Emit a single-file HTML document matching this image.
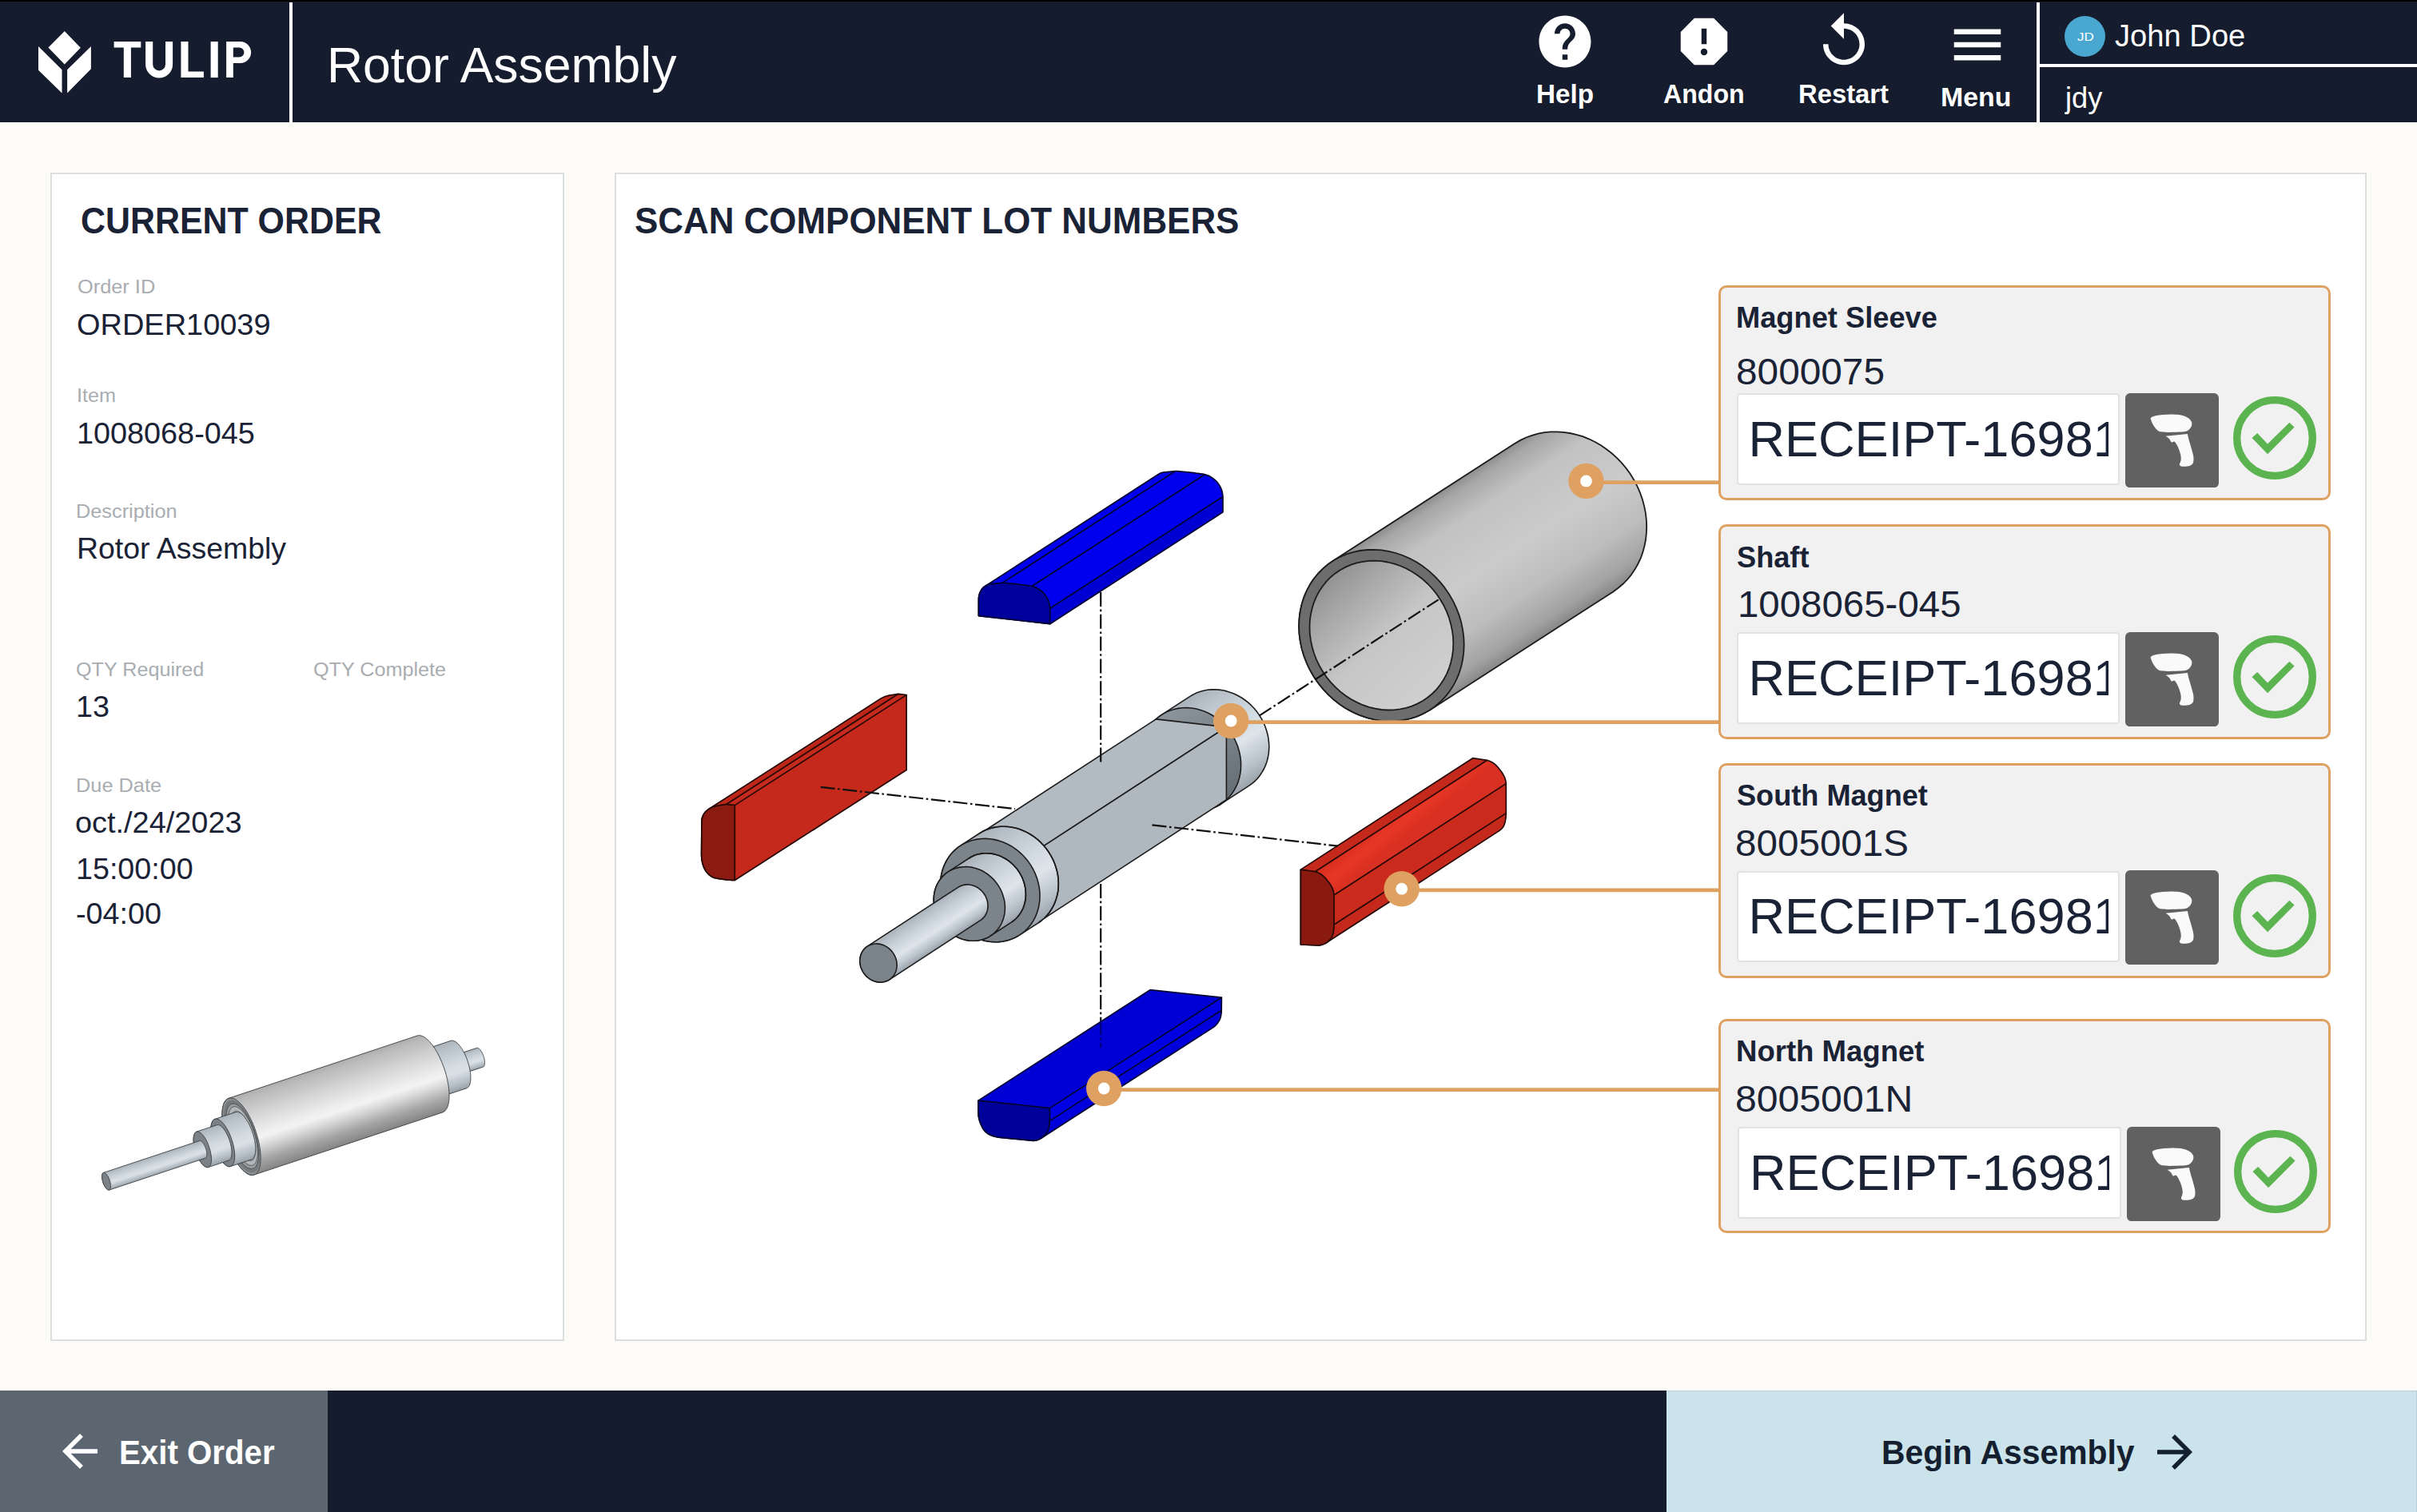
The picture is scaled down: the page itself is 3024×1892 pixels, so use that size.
<!DOCTYPE html>
<html lang="en"><head><meta charset="utf-8"><title>Rotor Assembly</title>
<style>
html,body{margin:0;padding:0}
body{width:3024px;height:1892px;position:relative;overflow:hidden;background:#fcfbf7;font-family:"Liberation Sans",sans-serif}
.abs,.t,.ic{position:absolute}
.t{white-space:nowrap;line-height:1;transform-origin:0 0;display:block}
.hdr{left:0;top:0;width:3024px;height:153px;background:#151c2d}
.panel{background:#fff;border:2px solid #dcdfe0;box-sizing:border-box}
.card{box-sizing:border-box;background:#f1f1f1;border:3px solid #dfa161;border-radius:10px}
.inp{box-sizing:border-box;background:#fff;border:2.6px solid #e2e2e2;border-radius:4px;overflow:hidden}
.scan{background:#616161;border-radius:6px}
svg{display:block}
</style></head><body>

<header>
<div class="abs hdr"></div>
<div class="abs" style="left:0;top:0;width:3024px;height:2px;background:#000"></div>
<div class="abs" style="left:362px;top:3px;width:4px;height:150px;background:#fff"></div>
<div class="abs" style="left:2548px;top:3px;width:4px;height:150px;background:#fff"></div>
<div class="abs" style="left:2552px;top:80px;width:472px;height:4px;background:#fff"></div>
<svg class="abs" style="left:0;top:0" width="362" height="153" viewBox="0 0 362 153">
<g fill="#fff">
<path d="M80.8 38.9 100.8 59.8 80.8 80.6 60.4 59.5Z"/>
<path d="M48 57.9 77.5 87.2 77.5 116.6 48 87.7Z"/>
<path d="M113.9 57.9 84.1 87.2 84.1 116.6 113.9 86.3Z"/>
<path d="M142.6 52H176.3V59.4H163.9V97.1H154.8V59.4H142.6Z"/>
<path d="M226.4 52H235.5V89.6H254.9V97.1H226.4Z"/>
<path d="M263.6 52H272.7V97.1H263.6Z"/>
<path fill-rule="evenodd" d="M283.1 52H300.6a13.5 13.45 0 0 1 0 26.9H291.8V97.1H283.1ZM291.8 59.4H299.4a6 6 0 0 1 0 12H291.8Z"/>
</g>
<path d="M186.65 52V80.5a12.45 12.45 0 0 0 24.9 0V52" fill="none" stroke="#fff" stroke-width="9.1"/>
</svg>
<span class="t" style="left:408.92px;top:50.12px;font-size:62.7px;color:#fff;transform:scaleX(0.9966);">Rotor Assembly</span>
<svg class="ic" style="left:1919.00px;top:13.00px" width="78" height="78" viewBox="0 0 24 24"><path fill="#fff"  d="M12 2C6.48 2 2 6.48 2 12s4.48 10 10 10 10-4.48 10-10S17.52 2 12 2zm1 17h-2v-2h2v2zm2.07-7.75l-.9.92C13.45 12.9 13 13.5 13 15h-2v-.5c0-1.1.45-2.1 1.17-2.83l1.24-1.26c.37-.36.59-.86.59-1.41 0-1.1-.9-2-2-2s-2 .9-2 2H8c0-2.21 1.79-4 4-4s4 1.79 4 4c0 .88-.36 1.68-.93 2.25z"/></svg>
<svg class="ic" style="left:2093.40px;top:13.00px" width="78" height="78" viewBox="0 0 24 24"><path fill="#fff"  d="M15.73 3H8.27L3 8.27v7.46L8.27 21h7.46L21 15.73V8.27L15.73 3zM12 17.3c-.72 0-1.3-.58-1.3-1.3 0-.72.58-1.3 1.3-1.3.72 0 1.3.58 1.3 1.3 0 .72-.58 1.3-1.3 1.3zm1-4.3h-2V7h2v6z"/></svg>
<svg class="ic" style="left:2268.00px;top:13.00px" width="78" height="78" viewBox="0 0 24 24"><path fill="#fff"  d="M12 5V1L7 6l5 5V7c3.31 0 6 2.69 6 6s-2.69 6-6 6-6-2.69-6-6H4c0 4.42 3.58 8 8 8s8-3.58 8-8-3.58-8-8-8z"/></svg>
<svg class="ic" style="left:2434.70px;top:16.50px" width="78" height="78" viewBox="0 0 24 24"><path fill="#fff"  d="M3 18h18v-2H3v2zm0-5h18v-2H3v2zm0-7v2h18V6H3z"/></svg>
<span class="t" style="left:1921.76px;top:102.12px;font-size:32.7px;color:#fff;font-weight:700;transform:scaleX(1.0187);">Help</span>
<span class="t" style="left:2081.46px;top:102.12px;font-size:32.7px;color:#fff;font-weight:700;transform:scaleX(0.9823);">Andon</span>
<span class="t" style="left:2250.19px;top:102.12px;font-size:32.7px;color:#fff;font-weight:700;transform:scaleX(1.0028);">Restart</span>
<span class="t" style="left:2428.33px;top:105.62px;font-size:32.7px;color:#fff;font-weight:700;transform:scaleX(1.0369);">Menu</span>
<div class="abs" style="left:2583.1px;top:19.8px;width:51px;height:51px;border-radius:50%;background:#4aa8d0"></div>
<span class="t" style="left:2598.60px;top:38.08px;font-size:15.5px;color:#fff;transform:scaleX(1.0959);">JD</span>
<span class="t" style="left:2645.60px;top:26.23px;font-size:38px;color:#fff;transform:scaleX(1.0041);">John Doe</span>
<span class="t" style="left:2584.18px;top:104.38px;font-size:37px;color:#fff;transform:scaleX(0.9793);">jdy</span>
</header>
<aside>
<div class="abs panel" style="left:63px;top:216px;width:643.2px;height:1462px"></div>
<span class="t" style="left:100.75px;top:254.18px;font-size:45.5px;color:#1a2236;font-weight:700;transform:scaleX(0.9426);">CURRENT ORDER</span>
<span class="t" style="left:96.88px;top:347.11px;font-size:24.8px;color:#a9adb1;transform:scaleX(1.0225);">Order ID</span>
<span class="t" style="left:96.32px;top:387.73px;font-size:37.3px;color:#1a2236;transform:scaleX(1.0174);">ORDER10039</span>
<span class="t" style="left:95.61px;top:483.11px;font-size:24.8px;color:#a9adb1;transform:scaleX(1.0186);">Item</span>
<span class="t" style="left:95.71px;top:524.43px;font-size:37.3px;color:#1a2236;transform:scaleX(1.0134);">1008068-045</span>
<span class="t" style="left:95.16px;top:627.81px;font-size:24.8px;color:#a9adb1;transform:scaleX(1.0200);">Description</span>
<span class="t" style="left:95.51px;top:668.26px;font-size:37.5px;color:#1a2236;transform:scaleX(0.9979);">Rotor Assembly</span>
<span class="t" style="left:94.89px;top:825.81px;font-size:24.8px;color:#a9adb1;transform:scaleX(1.0144);">QTY Required</span>
<span class="t" style="left:392.48px;top:825.81px;font-size:24.8px;color:#a9adb1;transform:scaleX(1.0158);">QTY Complete</span>
<span class="t" style="left:95.12px;top:866.43px;font-size:37.3px;color:#1a2236;transform:scaleX(1.0123);">13</span>
<span class="t" style="left:94.56px;top:971.01px;font-size:24.8px;color:#a9adb1;transform:scaleX(1.0215);">Due Date</span>
<span class="t" style="left:94.38px;top:1011.43px;font-size:37.3px;color:#1a2236;transform:scaleX(1.0158);">oct./24/2023</span>
<span class="t" style="left:95.12px;top:1068.63px;font-size:37.3px;color:#1a2236;transform:scaleX(1.0100);">15:00:00</span>
<span class="t" style="left:94.68px;top:1124.63px;font-size:37.3px;color:#1a2236;transform:scaleX(1.0125);">-04:00</span>
<svg class="abs" style="left:65px;top:1240px" width="640" height="436" viewBox="65 1240 640 436"><defs><linearGradient id="t1" gradientUnits="userSpaceOnUse" x1="570.0" y1="1320.1" x2="577.9" y2="1343.9"><stop offset="0" stop-color="#aab3ba"/><stop offset="0.15" stop-color="#bac3ca"/><stop offset="0.5" stop-color="#d4dce2"/><stop offset="0.65" stop-color="#d9e0e6"/><stop offset="0.88" stop-color="#b2bbc2"/><stop offset="1" stop-color="#98a1a8"/></linearGradient><linearGradient id="t2" gradientUnits="userSpaceOnUse" x1="528.0" y1="1314.3" x2="547.7" y2="1373.7"><stop offset="0" stop-color="#aab3ba"/><stop offset="0.15" stop-color="#bac3ca"/><stop offset="0.5" stop-color="#d4dce2"/><stop offset="0.65" stop-color="#d9e0e6"/><stop offset="0.88" stop-color="#b2bbc2"/><stop offset="1" stop-color="#98a1a8"/></linearGradient><linearGradient id="t3" gradientUnits="userSpaceOnUse" x1="286.1" y1="1374.3" x2="317.9" y2="1470.1"><stop offset="0" stop-color="#adadad"/><stop offset="0.06" stop-color="#b9b9b9"/><stop offset="0.3" stop-color="#d6d6d6"/><stop offset="0.5" stop-color="#ececec"/><stop offset="0.58" stop-color="#f3f3f3"/><stop offset="0.68" stop-color="#dadada"/><stop offset="0.85" stop-color="#a6a6a6"/><stop offset="1" stop-color="#858585"/></linearGradient><linearGradient id="t4" gradientUnits="userSpaceOnUse" x1="268.9" y1="1400.3" x2="288.6" y2="1459.5"><stop offset="0" stop-color="#aab3ba"/><stop offset="0.15" stop-color="#bac3ca"/><stop offset="0.5" stop-color="#d4dce2"/><stop offset="0.65" stop-color="#d9e0e6"/><stop offset="0.88" stop-color="#b2bbc2"/><stop offset="1" stop-color="#98a1a8"/></linearGradient><linearGradient id="t5" gradientUnits="userSpaceOnUse" x1="245.9" y1="1416.1" x2="260.7" y2="1460.6"><stop offset="0" stop-color="#aab3ba"/><stop offset="0.15" stop-color="#bac3ca"/><stop offset="0.5" stop-color="#d4dce2"/><stop offset="0.65" stop-color="#d9e0e6"/><stop offset="0.88" stop-color="#b2bbc2"/><stop offset="1" stop-color="#98a1a8"/></linearGradient><linearGradient id="t6" gradientUnits="userSpaceOnUse" x1="129.5" y1="1467.4" x2="136.6" y2="1489.1"><stop offset="0" stop-color="#aab3ba"/><stop offset="0.15" stop-color="#bac3ca"/><stop offset="0.5" stop-color="#d4dce2"/><stop offset="0.65" stop-color="#d9e0e6"/><stop offset="0.88" stop-color="#b2bbc2"/><stop offset="1" stop-color="#98a1a8"/></linearGradient></defs><path d="M570.0 1320.1 569.7 1320.3 569.4 1320.4 569.2 1320.7 569.0 1320.9 568.8 1321.2 568.6 1321.6 568.4 1322.0 568.3 1322.5 568.2 1323.0 568.1 1323.5 568.0 1324.1 568.0 1324.7 567.9 1325.3 568.0 1326.0 568.0 1326.7 568.1 1327.4 568.1 1328.1 568.3 1328.8 568.4 1329.6 568.6 1330.4 568.7 1331.2 568.9 1331.9 569.2 1332.7 569.4 1333.5 569.7 1334.3 570.0 1335.0 570.3 1335.8 570.6 1336.5 570.9 1337.2 571.3 1337.9 571.6 1338.6 572.0 1339.2 572.4 1339.8 572.8 1340.4 573.1 1341.0 573.5 1341.5 573.9 1341.9 574.3 1342.3 574.7 1342.7 575.1 1343.0 575.5 1343.3 575.8 1343.5 576.2 1343.7 576.6 1343.9 576.9 1343.9 577.2 1344.0 577.6 1343.9 577.9 1343.9 604.4 1335.1 604.7 1334.9 605.0 1334.8 605.2 1334.5 605.5 1334.3 605.7 1333.9 605.9 1333.6 606.0 1333.2 606.2 1332.7 606.3 1332.2 606.4 1331.7 606.4 1331.1 606.5 1330.5 606.5 1329.9 606.5 1329.2 606.4 1328.5 606.4 1327.8 606.3 1327.1 606.2 1326.3 606.0 1325.6 605.9 1324.8 605.7 1324.0 605.5 1323.3 605.3 1322.5 605.0 1321.7 604.7 1320.9 604.5 1320.2 604.2 1319.4 603.8 1318.7 603.5 1318.0 603.2 1317.3 602.8 1316.6 602.4 1316.0 602.1 1315.4 601.7 1314.8 601.3 1314.2 600.9 1313.7 600.5 1313.3 600.1 1312.9 599.7 1312.5 599.4 1312.2 599.0 1311.9 598.6 1311.7 598.2 1311.5 597.9 1311.3 597.5 1311.3 597.2 1311.2 596.9 1311.3 596.6 1311.3Z" fill="url(#t1)" stroke="#3a3d40" stroke-width="0.9" stroke-linejoin="round"/>
<path d="M528.0 1314.3 527.3 1314.6 526.6 1315.0 526.0 1315.6 525.4 1316.2 524.9 1317.0 524.4 1318.0 524.0 1319.0 523.7 1320.1 523.4 1321.3 523.2 1322.7 523.0 1324.1 522.9 1325.6 522.9 1327.2 522.9 1328.9 523.0 1330.6 523.2 1332.4 523.4 1334.2 523.7 1336.1 524.0 1338.0 524.4 1339.9 524.9 1341.8 525.4 1343.8 526.0 1345.8 526.6 1347.7 527.2 1349.6 528.0 1351.6 528.7 1353.4 529.5 1355.3 530.3 1357.1 531.2 1358.8 532.1 1360.5 533.0 1362.1 534.0 1363.6 534.9 1365.0 535.9 1366.4 536.8 1367.6 537.8 1368.8 538.8 1369.8 539.8 1370.7 540.8 1371.6 541.7 1372.3 542.6 1372.8 543.6 1373.3 544.5 1373.6 545.3 1373.8 546.2 1373.9 547.0 1373.9 547.7 1373.7 583.8 1361.7 584.5 1361.4 585.2 1361.0 585.8 1360.4 586.4 1359.7 586.9 1358.9 587.4 1358.0 587.8 1357.0 588.1 1355.9 588.4 1354.6 588.6 1353.3 588.8 1351.9 588.9 1350.4 588.9 1348.8 588.9 1347.1 588.8 1345.4 588.6 1343.6 588.4 1341.8 588.1 1339.9 587.8 1338.0 587.4 1336.1 586.9 1334.1 586.4 1332.2 585.8 1330.2 585.2 1328.3 584.6 1326.3 583.8 1324.4 583.1 1322.5 582.3 1320.7 581.5 1318.9 580.6 1317.2 579.7 1315.5 578.8 1313.9 577.8 1312.4 576.9 1310.9 575.9 1309.6 574.9 1308.3 574.0 1307.2 573.0 1306.2 572.0 1305.2 571.0 1304.4 570.1 1303.7 569.1 1303.1 568.2 1302.7 567.3 1302.3 566.5 1302.1 565.6 1302.1 564.8 1302.1 564.1 1302.3Z" fill="url(#t2)" stroke="#3a3d40" stroke-width="0.9" stroke-linejoin="round"/>
<path d="M286.1 1374.3 284.9 1374.8 283.9 1375.5 282.9 1376.4 281.9 1377.5 281.1 1378.8 280.3 1380.2 279.7 1381.9 279.1 1383.7 278.7 1385.7 278.3 1387.9 278.0 1390.1 277.9 1392.6 277.8 1395.1 277.9 1397.8 278.0 1400.6 278.3 1403.5 278.6 1406.4 279.1 1409.4 279.6 1412.5 280.3 1415.6 281.0 1418.8 281.9 1421.9 282.8 1425.1 283.8 1428.2 284.9 1431.4 286.0 1434.4 287.2 1437.5 288.5 1440.4 289.9 1443.3 291.3 1446.1 292.7 1448.8 294.2 1451.4 295.7 1453.9 297.2 1456.2 298.8 1458.3 300.4 1460.4 301.9 1462.2 303.5 1463.9 305.1 1465.4 306.7 1466.7 308.2 1467.9 309.7 1468.8 311.2 1469.5 312.6 1470.1 314.0 1470.4 315.4 1470.5 316.7 1470.4 317.9 1470.1 553.8 1391.9 554.9 1391.4 556.0 1390.7 557.0 1389.8 557.9 1388.7 558.8 1387.4 559.5 1385.9 560.2 1384.3 560.7 1382.5 561.2 1380.5 561.6 1378.3 561.8 1376.0 562.0 1373.6 562.0 1371.0 562.0 1368.4 561.8 1365.6 561.6 1362.7 561.2 1359.7 560.8 1356.7 560.2 1353.7 559.6 1350.5 558.8 1347.4 558.0 1344.2 557.1 1341.1 556.1 1337.9 555.0 1334.8 553.8 1331.7 552.6 1328.7 551.3 1325.7 550.0 1322.8 548.6 1320.0 547.2 1317.3 545.7 1314.8 544.2 1312.3 542.6 1310.0 541.1 1307.8 539.5 1305.8 537.9 1303.9 536.3 1302.3 534.8 1300.8 533.2 1299.4 531.7 1298.3 530.1 1297.4 528.7 1296.6 527.2 1296.1 525.8 1295.8 524.5 1295.7 523.2 1295.7 522.0 1296.0Z" fill="url(#t3)" stroke="#3a3d40" stroke-width="0.9" stroke-linejoin="round"/>
<path d="M286.1 1374.3 288.6 1373.9 291.4 1374.3 294.3 1375.6 297.3 1377.7 300.5 1380.5 303.6 1384.0 306.8 1388.2 309.8 1393.0 312.7 1398.3 315.5 1404.0 318.0 1410.0 320.2 1416.2 322.1 1422.5 323.7 1428.8 324.9 1435.0 325.7 1440.9 326.1 1446.6 326.1 1451.8 325.7 1456.5 324.9 1460.7 323.7 1464.2 322.1 1466.9 320.1 1468.9 317.9 1470.1 315.4 1470.5 312.6 1470.1 309.7 1468.8 306.7 1466.7 303.5 1463.9 300.4 1460.4 297.2 1456.2 294.2 1451.4 291.3 1446.1 288.5 1440.4 286.0 1434.4 283.8 1428.2 281.9 1421.9 280.3 1415.6 279.1 1409.4 278.3 1403.5 277.9 1397.8 277.9 1392.6 278.3 1387.9 279.1 1383.7 280.3 1380.2 281.9 1377.5 283.9 1375.5 286.1 1374.3Z" fill="#8b8f92" stroke="#3a3d40" stroke-width="0.9" stroke-linejoin="round"/>
<path d="M287.6 1376.9 290.0 1376.6 292.6 1377.0 295.3 1378.2 298.2 1380.1 301.1 1382.8 304.1 1386.1 307.1 1390.1 309.9 1394.5 312.7 1399.5 315.2 1404.9 317.6 1410.5 319.7 1416.3 321.5 1422.3 323.0 1428.2 324.1 1434.0 324.9 1439.6 325.3 1444.9 325.3 1449.9 324.9 1454.3 324.1 1458.2 322.9 1461.5 321.4 1464.1 319.6 1466.0 317.5 1467.1 315.2 1467.5 312.6 1467.0 309.8 1465.8 307.0 1463.9 304.0 1461.2 301.0 1457.9 298.1 1454.0 295.2 1449.5 292.5 1444.5 289.9 1439.2 287.5 1433.5 285.4 1427.7 283.6 1421.8 282.2 1415.8 281.0 1410.0 280.3 1404.4 279.9 1399.1 279.9 1394.1 280.3 1389.7 281.1 1385.8 282.2 1382.5 283.7 1379.9 285.5 1378.1 287.6 1376.9Z" fill="#74797d"/>
<path d="M289.8 1381.5 291.9 1381.2 294.2 1381.5 296.6 1382.6 299.2 1384.3 301.9 1386.7 304.5 1389.7 307.2 1393.2 309.7 1397.2 312.2 1401.7 314.5 1406.5 316.6 1411.5 318.5 1416.7 320.1 1422.0 321.4 1427.4 322.4 1432.6 323.1 1437.6 323.4 1442.3 323.4 1446.8 323.1 1450.7 322.4 1454.2 321.4 1457.1 320.0 1459.5 318.4 1461.2 316.5 1462.2 314.4 1462.5 312.1 1462.1 309.6 1461.0 307.1 1459.3 304.4 1456.9 301.8 1453.9 299.1 1450.4 296.6 1446.4 294.1 1442.0 291.8 1437.2 289.7 1432.1 287.8 1426.9 286.2 1421.6 284.9 1416.3 283.9 1411.1 283.2 1406.1 282.8 1401.3 282.8 1396.9 283.2 1392.9 283.9 1389.4 284.9 1386.5 286.2 1384.2 287.9 1382.5 289.8 1381.5Z" fill="#9a9ea1" stroke="#3a3d40" stroke-width="0.7" stroke-linejoin="round"/>
<path d="M291.8 1385.0 293.7 1384.7 295.8 1385.1 298.0 1386.0 300.3 1387.6 302.7 1389.8 305.1 1392.5 307.5 1395.7 309.9 1399.3 312.1 1403.3 314.2 1407.7 316.1 1412.2 317.8 1417.0 319.2 1421.8 320.4 1426.6 321.4 1431.3 322.0 1435.9 322.3 1440.2 322.3 1444.2 322.0 1447.8 321.3 1450.9 320.4 1453.6 319.2 1455.7 317.7 1457.2 316.0 1458.1 314.1 1458.4 312.0 1458.1 309.8 1457.1 307.5 1455.5 305.1 1453.4 302.6 1450.7 300.3 1447.5 297.9 1443.8 295.7 1439.8 293.6 1435.5 291.7 1430.9 290.0 1426.2 288.5 1421.4 287.3 1416.6 286.4 1411.8 285.8 1407.3 285.5 1403.0 285.5 1399.0 285.8 1395.4 286.5 1392.2 287.4 1389.6 288.6 1387.5 290.1 1385.9 291.8 1385.0Z" fill="#b4b8bb" stroke="#3a3d40" stroke-width="0.7" stroke-linejoin="round"/>
<path d="M293.8 1389.6 295.5 1389.4 297.3 1389.7 299.3 1390.5 301.3 1391.9 303.4 1393.7 305.5 1396.1 307.5 1398.9 309.6 1402.0 311.5 1405.5 313.3 1409.3 315.0 1413.3 316.5 1417.4 317.7 1421.6 318.8 1425.8 319.6 1429.9 320.1 1433.8 320.4 1437.6 320.4 1441.1 320.1 1444.2 319.5 1446.9 318.7 1449.3 317.7 1451.1 316.4 1452.4 314.9 1453.2 313.3 1453.5 311.4 1453.2 309.5 1452.3 307.5 1451.0 305.4 1449.1 303.3 1446.7 301.2 1443.9 299.2 1440.8 297.2 1437.3 295.4 1433.5 293.8 1429.5 292.3 1425.4 291.0 1421.2 290.0 1417.1 289.2 1412.9 288.6 1409.0 288.4 1405.2 288.4 1401.8 288.7 1398.6 289.2 1395.9 290.0 1393.6 291.1 1391.7 292.3 1390.4 293.8 1389.6Z" fill="#8a8f93"/>
<path d="M268.9 1400.3 268.2 1400.6 267.5 1401.0 266.9 1401.6 266.3 1402.3 265.8 1403.1 265.4 1404.0 265.0 1405.0 264.6 1406.1 264.3 1407.4 264.1 1408.7 263.9 1410.1 263.8 1411.6 263.8 1413.2 263.8 1414.8 263.9 1416.6 264.1 1418.3 264.3 1420.2 264.6 1422.0 264.9 1423.9 265.3 1425.9 265.8 1427.8 266.3 1429.7 266.9 1431.7 267.5 1433.6 268.2 1435.6 268.9 1437.5 269.6 1439.4 270.4 1441.2 271.2 1443.0 272.1 1444.7 273.0 1446.4 273.9 1448.0 274.8 1449.5 275.8 1450.9 276.8 1452.2 277.7 1453.5 278.7 1454.6 279.7 1455.7 280.7 1456.6 281.6 1457.4 282.6 1458.1 283.5 1458.7 284.4 1459.2 285.3 1459.5 286.2 1459.7 287.0 1459.8 287.8 1459.7 288.6 1459.5 314.7 1450.9 315.4 1450.6 316.1 1450.1 316.7 1449.6 317.2 1448.9 317.8 1448.1 318.2 1447.2 318.6 1446.2 319.0 1445.0 319.3 1443.8 319.5 1442.5 319.7 1441.1 319.8 1439.6 319.8 1438.0 319.8 1436.3 319.7 1434.6 319.5 1432.8 319.3 1431.0 319.0 1429.1 318.7 1427.2 318.3 1425.3 317.8 1423.4 317.3 1421.4 316.7 1419.5 316.1 1417.5 315.4 1415.6 314.7 1413.7 314.0 1411.8 313.2 1410.0 312.3 1408.2 311.5 1406.5 310.6 1404.8 309.7 1403.2 308.7 1401.7 307.8 1400.3 306.8 1398.9 305.9 1397.7 304.9 1396.5 303.9 1395.5 302.9 1394.6 302.0 1393.7 301.0 1393.0 300.1 1392.5 299.2 1392.0 298.3 1391.7 297.4 1391.5 296.6 1391.4 295.8 1391.5 295.0 1391.6Z" fill="url(#t4)" stroke="#3a3d40" stroke-width="0.9" stroke-linejoin="round"/>
<path d="M268.9 1400.3 270.5 1400.1 272.2 1400.3 274.0 1401.1 275.9 1402.4 277.8 1404.1 279.8 1406.3 281.7 1408.9 283.6 1411.9 285.4 1415.1 287.1 1418.6 288.6 1422.3 290.0 1426.2 291.2 1430.1 292.2 1434.0 292.9 1437.8 293.4 1441.5 293.7 1445.0 293.6 1448.2 293.4 1451.1 292.9 1453.7 292.1 1455.8 291.1 1457.6 290.0 1458.8 288.6 1459.5 287.0 1459.8 285.3 1459.5 283.5 1458.7 281.6 1457.4 279.7 1455.7 277.7 1453.5 275.8 1450.9 273.9 1448.0 272.1 1444.7 270.4 1441.2 268.9 1437.5 267.5 1433.6 266.3 1429.7 265.3 1425.9 264.6 1422.0 264.1 1418.3 263.8 1414.8 263.8 1411.6 264.1 1408.7 264.6 1406.1 265.4 1404.0 266.3 1402.3 267.5 1401.0 268.9 1400.3Z" fill="#7a8288" stroke="#3a3d40" stroke-width="0.9" stroke-linejoin="round"/>
<path d="M245.9 1416.1 245.4 1416.4 244.9 1416.7 244.4 1417.1 244.0 1417.6 243.6 1418.2 243.3 1418.9 243.0 1419.7 242.7 1420.5 242.5 1421.4 242.3 1422.4 242.2 1423.5 242.1 1424.6 242.1 1425.8 242.1 1427.1 242.2 1428.3 242.3 1429.7 242.5 1431.0 242.7 1432.4 242.9 1433.9 243.2 1435.3 243.6 1436.8 244.0 1438.2 244.4 1439.7 244.9 1441.1 245.4 1442.6 245.9 1444.0 246.5 1445.4 247.1 1446.8 247.7 1448.1 248.3 1449.4 249.0 1450.7 249.7 1451.9 250.4 1453.0 251.1 1454.1 251.8 1455.1 252.5 1456.0 253.3 1456.9 254.0 1457.7 254.7 1458.4 255.5 1459.0 256.2 1459.5 256.9 1459.9 257.6 1460.3 258.2 1460.5 258.9 1460.7 259.5 1460.7 260.1 1460.7 260.7 1460.6 286.1 1452.1 286.6 1451.9 287.2 1451.6 287.6 1451.2 288.0 1450.6 288.4 1450.0 288.8 1449.4 289.1 1448.6 289.3 1447.7 289.6 1446.8 289.7 1445.8 289.8 1444.8 289.9 1443.6 289.9 1442.5 289.9 1441.2 289.9 1439.9 289.7 1438.6 289.6 1437.2 289.4 1435.8 289.1 1434.4 288.8 1433.0 288.5 1431.5 288.1 1430.0 287.6 1428.6 287.2 1427.1 286.7 1425.7 286.2 1424.2 285.6 1422.8 285.0 1421.5 284.4 1420.1 283.7 1418.8 283.1 1417.6 282.4 1416.4 281.7 1415.2 281.0 1414.2 280.2 1413.2 279.5 1412.2 278.8 1411.4 278.0 1410.6 277.3 1409.9 276.6 1409.3 275.9 1408.8 275.2 1408.3 274.5 1408.0 273.8 1407.7 273.2 1407.6 272.5 1407.5 271.9 1407.6 271.4 1407.7Z" fill="url(#t5)" stroke="#3a3d40" stroke-width="0.9" stroke-linejoin="round"/>
<path d="M245.9 1416.1 247.1 1416.0 248.4 1416.2 249.7 1416.8 251.1 1417.7 252.6 1419.0 254.1 1420.7 255.5 1422.6 256.9 1424.8 258.3 1427.3 259.6 1429.9 260.7 1432.7 261.7 1435.6 262.6 1438.5 263.4 1441.4 263.9 1444.3 264.3 1447.0 264.5 1449.7 264.5 1452.1 264.3 1454.3 263.9 1456.2 263.3 1457.8 262.6 1459.1 261.7 1460.0 260.7 1460.6 259.5 1460.7 258.2 1460.5 256.9 1459.9 255.5 1459.0 254.0 1457.7 252.5 1456.0 251.1 1454.1 249.7 1451.9 248.3 1449.4 247.1 1446.8 245.9 1444.0 244.9 1441.1 244.0 1438.2 243.2 1435.3 242.7 1432.4 242.3 1429.7 242.1 1427.1 242.1 1424.6 242.3 1422.4 242.7 1420.5 243.3 1418.9 244.0 1417.6 244.9 1416.7 245.9 1416.1Z" fill="#7a8288" stroke="#3a3d40" stroke-width="0.9" stroke-linejoin="round"/>
<path d="M129.5 1467.4 129.2 1467.5 129.0 1467.7 128.7 1467.9 128.5 1468.1 128.3 1468.4 128.2 1468.8 128.0 1469.1 127.9 1469.5 127.8 1470.0 127.7 1470.5 127.6 1471.0 127.6 1471.6 127.6 1472.1 127.6 1472.7 127.6 1473.4 127.7 1474.0 127.8 1474.7 127.9 1475.4 128.0 1476.1 128.2 1476.8 128.3 1477.5 128.5 1478.2 128.7 1478.9 128.9 1479.6 129.2 1480.3 129.4 1481.0 129.7 1481.7 130.0 1482.4 130.3 1483.0 130.6 1483.6 131.0 1484.2 131.3 1484.8 131.6 1485.4 132.0 1485.9 132.3 1486.4 132.7 1486.9 133.0 1487.3 133.4 1487.7 133.8 1488.0 134.1 1488.3 134.5 1488.5 134.8 1488.8 135.1 1488.9 135.5 1489.0 135.8 1489.1 136.1 1489.1 136.4 1489.1 136.6 1489.1 256.9 1449.2 257.2 1449.1 257.4 1448.9 257.6 1448.7 257.8 1448.4 258.0 1448.2 258.2 1447.8 258.3 1447.5 258.5 1447.0 258.6 1446.6 258.7 1446.1 258.7 1445.6 258.8 1445.0 258.8 1444.5 258.8 1443.9 258.7 1443.2 258.7 1442.6 258.6 1441.9 258.5 1441.2 258.4 1440.5 258.2 1439.8 258.0 1439.1 257.9 1438.4 257.6 1437.7 257.4 1437.0 257.2 1436.3 256.9 1435.6 256.6 1434.9 256.4 1434.2 256.0 1433.6 255.7 1432.9 255.4 1432.3 255.1 1431.8 254.7 1431.2 254.4 1430.7 254.0 1430.2 253.7 1429.7 253.3 1429.3 253.0 1428.9 252.6 1428.6 252.3 1428.3 251.9 1428.0 251.6 1427.8 251.2 1427.7 250.9 1427.5 250.6 1427.5 250.3 1427.4 250.0 1427.5 249.7 1427.5Z" fill="url(#t6)" stroke="#3a3d40" stroke-width="0.9" stroke-linejoin="round"/>
<path d="M129.5 1467.4 130.0 1467.3 130.6 1467.4 131.3 1467.7 132.0 1468.2 132.7 1468.8 133.4 1469.6 134.1 1470.6 134.8 1471.6 135.5 1472.8 136.1 1474.1 136.7 1475.5 137.2 1476.9 137.6 1478.3 138.0 1479.7 138.2 1481.1 138.4 1482.5 138.5 1483.7 138.5 1484.9 138.4 1486.0 138.2 1486.9 137.9 1487.7 137.6 1488.3 137.1 1488.8 136.6 1489.1 136.1 1489.1 135.5 1489.0 134.8 1488.8 134.1 1488.3 133.4 1487.7 132.7 1486.9 132.0 1485.9 131.3 1484.8 130.6 1483.6 130.0 1482.4 129.4 1481.0 128.9 1479.6 128.5 1478.2 128.2 1476.8 127.9 1475.4 127.7 1474.0 127.6 1472.7 127.6 1471.6 127.7 1470.5 127.9 1469.5 128.2 1468.8 128.5 1468.1 129.0 1467.7 129.5 1467.4Z" fill="#7a8288" stroke="#3a3d40" stroke-width="0.9" stroke-linejoin="round"/></svg>
</aside>
<main>
<div class="abs panel" style="left:769.2px;top:216px;width:2192.2px;height:1462px"></div>
<span class="t" style="left:793.69px;top:254.18px;font-size:45.5px;color:#1a2236;font-weight:700;transform:scaleX(0.9653);">SCAN COMPONENT LOT NUMBERS</span>
<svg class="abs" style="left:0;top:0" width="3024" height="1892" viewBox="0 0 3024 1892"><defs><linearGradient id="g1" gradientUnits="userSpaceOnUse" x1="1668.3" y1="702.7" x2="1788.5" y2="887.5"><stop offset="0" stop-color="#8f8f8f"/><stop offset="0.05" stop-color="#a6a6a6"/><stop offset="0.2" stop-color="#c2c2c2"/><stop offset="0.5" stop-color="#cbcbcb"/><stop offset="0.75" stop-color="#bdbdbd"/><stop offset="0.93" stop-color="#a2a2a2"/><stop offset="1" stop-color="#8a8a8a"/></linearGradient><linearGradient id="g2" gradientUnits="userSpaceOnUse" x1="1653.4" y1="720.1" x2="1788.4" y2="865.1"><stop offset="0" stop-color="#8e8e8e"/><stop offset="0.25" stop-color="#a9a9a9"/><stop offset="0.55" stop-color="#c6c6c6"/><stop offset="1" stop-color="#cfcfcf"/></linearGradient><linearGradient id="g3" gradientUnits="userSpaceOnUse" x1="1454.2" y1="894.6" x2="1526.6" y2="1005.9"><stop offset="0" stop-color="#a9b2ba"/><stop offset="0.12" stop-color="#b7c0c8"/><stop offset="0.45" stop-color="#d3dbe2"/><stop offset="0.62" stop-color="#dde4ea"/><stop offset="0.85" stop-color="#b9c2ca"/><stop offset="1" stop-color="#9aa3ab"/></linearGradient><linearGradient id="g4" gradientUnits="userSpaceOnUse" x1="1454.2" y1="894.6" x2="1526.6" y2="1005.9"><stop offset="0" stop-color="#8c949b"/><stop offset="0.5" stop-color="#7a8289"/><stop offset="1" stop-color="#666e75"/></linearGradient><linearGradient id="g5" gradientUnits="userSpaceOnUse" x1="1202.6" y1="1058.4" x2="1275.0" y2="1169.7"><stop offset="0" stop-color="#a9b2ba"/><stop offset="0.12" stop-color="#b7c0c8"/><stop offset="0.45" stop-color="#d3dbe2"/><stop offset="0.62" stop-color="#dde4ea"/><stop offset="0.85" stop-color="#b9c2ca"/><stop offset="1" stop-color="#9aa3ab"/></linearGradient><linearGradient id="g6" gradientUnits="userSpaceOnUse" x1="1186.9" y1="1091.0" x2="1238.8" y2="1170.8"><stop offset="0" stop-color="#a9b2ba"/><stop offset="0.12" stop-color="#b7c0c8"/><stop offset="0.45" stop-color="#d3dbe2"/><stop offset="0.62" stop-color="#dde4ea"/><stop offset="0.85" stop-color="#b9c2ca"/><stop offset="1" stop-color="#9aa3ab"/></linearGradient><linearGradient id="g7" gradientUnits="userSpaceOnUse" x1="1085.5" y1="1184.3" x2="1112.5" y2="1225.7"><stop offset="0" stop-color="#a9b2ba"/><stop offset="0.12" stop-color="#b7c0c8"/><stop offset="0.45" stop-color="#d3dbe2"/><stop offset="0.62" stop-color="#dde4ea"/><stop offset="0.85" stop-color="#b9c2ca"/><stop offset="1" stop-color="#9aa3ab"/></linearGradient><linearGradient id="g8" gradientUnits="userSpaceOnUse" x1="1645.4" y1="1090.7" x2="1669.1" y2="1120.0"><stop offset="0" stop-color="#d62d1f"/><stop offset="0.5" stop-color="#e83626"/><stop offset="1" stop-color="#d83022"/></linearGradient><linearGradient id="g9" gradientUnits="userSpaceOnUse" x1="1669.1" y1="1157.0" x2="1650.0" y2="1183.0"><stop offset="0" stop-color="#c4291b"/><stop offset="1" stop-color="#9c2014"/></linearGradient><linearGradient id="g10" gradientUnits="userSpaceOnUse" x1="1313.3" y1="1402.6" x2="1293.2" y2="1427.3"><stop offset="0" stop-color="#0000dc"/><stop offset="1" stop-color="#0000a8"/></linearGradient></defs><path d="M1667.0 702.3 1660.7 706.9 1654.8 711.9 1649.3 717.5 1644.3 723.6 1639.9 730.1 1636.0 737.0 1632.6 744.2 1629.9 751.8 1627.8 759.7 1626.2 767.7 1625.4 776.0 1625.1 784.3 1625.5 792.7 1626.5 801.1 1628.2 809.5 1630.4 817.8 1633.3 826.0 1636.8 834.0 1640.8 841.7 1645.3 849.2 1650.4 856.3 1656.0 863.0 1662.0 869.3 1668.4 875.2 1675.2 880.5 1682.3 885.4 1689.7 889.7 1697.3 893.4 1705.1 896.5 1713.1 898.9 1721.2 900.7 1729.3 901.9 1737.4 902.4 1745.4 902.3 1753.3 901.5 1761.1 900.0 1768.7 897.9 1776.1 895.2 1783.1 891.8 1789.8 887.9 2018.3 740.4 2024.6 735.8 2030.5 730.8 2036.0 725.2 2041.0 719.1 2045.4 712.6 2049.3 705.7 2052.7 698.5 2055.4 690.9 2057.5 683.0 2059.1 675.0 2059.9 666.7 2060.2 658.4 2059.8 650.0 2058.8 641.6 2057.1 633.2 2054.9 624.9 2052.0 616.7 2048.5 608.7 2044.5 601.0 2040.0 593.5 2034.9 586.4 2029.3 579.7 2023.3 573.4 2016.9 567.5 2010.1 562.2 2003.0 557.3 1995.6 553.0 1988.0 549.3 1980.2 546.2 1972.2 543.8 1964.1 542.0 1956.0 540.8 1947.9 540.3 1939.9 540.4 1932.0 541.2 1924.2 542.7 1916.6 544.8 1909.2 547.5 1902.2 550.9 1895.5 554.8Z" fill="url(#g1)" stroke="#1c1c1c" stroke-width="1.8" stroke-linejoin="round"/>
<path d="M1728.4 688.4 1737.4 689.8 1746.3 692.0 1755.1 695.0 1763.7 698.8 1772.1 703.3 1780.1 708.5 1787.7 714.4 1794.8 720.8 1801.4 727.9 1807.5 735.4 1813.0 743.5 1817.9 751.9 1822.0 760.6 1825.5 769.6 1828.2 778.8 1830.1 788.1 1831.3 797.4 1831.7 806.8 1831.3 816.0 1830.1 825.1 1828.2 834.0 1825.5 842.6 1822.0 850.8 1817.9 858.6 1813.0 865.9 1807.5 872.7 1801.4 878.8 1794.8 884.4 1787.7 889.2 1780.1 893.4 1772.1 896.8 1763.7 899.4 1755.1 901.2 1746.3 902.2 1737.4 902.4 1728.4 901.8 1719.4 900.4 1710.5 898.2 1701.7 895.2 1693.1 891.4 1684.7 886.9 1676.7 881.7 1669.1 875.8 1662.0 869.4 1655.4 862.3 1649.3 854.8 1643.8 846.7 1638.9 838.3 1634.8 829.6 1631.3 820.6 1628.6 811.4 1626.7 802.1 1625.5 792.8 1625.1 783.4 1625.5 774.2 1626.7 765.1 1628.6 756.2 1631.3 747.6 1634.8 739.4 1638.9 731.6 1643.8 724.3 1649.3 717.5 1655.4 711.4 1662.0 705.8 1669.1 701.0 1676.7 696.8 1684.7 693.4 1693.1 690.8 1701.7 689.0 1710.5 688.0 1719.4 687.8 1728.4 688.4Z" fill="#6d6d6d" stroke="#1c1c1c" stroke-width="1.8" stroke-linejoin="round"/>
<path d="M1728.4 702.2 1736.2 703.5 1744.0 705.4 1751.7 708.0 1759.1 711.3 1766.4 715.2 1773.3 719.7 1780.0 724.8 1786.2 730.5 1792.0 736.6 1797.3 743.2 1802.0 750.2 1806.3 757.5 1809.9 765.1 1812.9 772.9 1815.2 780.9 1816.9 789.0 1818.0 797.1 1818.3 805.3 1818.0 813.3 1816.9 821.2 1815.2 829.0 1812.9 836.4 1809.9 843.6 1806.3 850.3 1802.0 856.7 1797.3 862.6 1792.0 868.0 1786.2 872.8 1780.0 877.0 1773.3 880.6 1766.4 883.6 1759.1 885.9 1751.7 887.4 1744.0 888.3 1736.2 888.5 1728.4 888.0 1720.6 886.7 1712.8 884.8 1705.1 882.2 1697.7 878.9 1690.4 875.0 1683.5 870.5 1676.8 865.4 1670.6 859.7 1664.8 853.6 1659.5 847.0 1654.8 840.0 1650.5 832.7 1646.9 825.1 1643.9 817.3 1641.6 809.3 1639.9 801.2 1638.8 793.1 1638.5 784.9 1638.8 776.9 1639.9 769.0 1641.6 761.2 1643.9 753.8 1646.9 746.6 1650.5 739.9 1654.8 733.5 1659.5 727.6 1664.8 722.2 1670.6 717.4 1676.8 713.2 1683.5 709.6 1690.4 706.6 1697.7 704.3 1705.1 702.8 1712.8 701.9 1720.6 701.7 1728.4 702.2Z" fill="url(#g2)" stroke="#1c1c1c" stroke-width="1.8" stroke-linejoin="round"/>
<path d="M1453.4 894.4 1449.6 897.1 1446.0 900.2 1442.7 903.6 1439.7 907.2 1437.1 911.1 1434.7 915.3 1432.7 919.7 1431.0 924.2 1429.8 928.9 1428.8 933.8 1428.3 938.8 1428.2 943.8 1428.4 948.9 1429.0 953.9 1430.0 959.0 1431.4 964.0 1433.1 968.9 1435.2 973.7 1437.6 978.4 1440.3 982.9 1443.4 987.2 1446.7 991.2 1450.4 995.0 1454.2 998.5 1458.3 1001.8 1462.6 1004.7 1467.1 1007.3 1471.7 1009.5 1476.4 1011.4 1481.2 1012.9 1486.0 1014.0 1490.9 1014.7 1495.8 1015.0 1500.6 1014.9 1505.4 1014.4 1510.1 1013.5 1514.7 1012.3 1519.1 1010.6 1523.4 1008.6 1527.4 1006.2 1562.5 983.3 1566.3 980.6 1569.9 977.6 1573.2 974.2 1576.2 970.5 1578.8 966.6 1581.2 962.5 1583.2 958.1 1584.9 953.5 1586.2 948.8 1587.1 943.9 1587.6 939.0 1587.8 934.0 1587.5 928.9 1586.9 923.8 1585.9 918.7 1584.5 913.7 1582.8 908.8 1580.7 904.0 1578.3 899.4 1575.6 894.9 1572.5 890.6 1569.2 886.5 1565.5 882.7 1561.7 879.2 1557.6 876.0 1553.3 873.0 1548.9 870.5 1544.3 868.2 1539.5 866.4 1534.7 864.9 1529.9 863.8 1525.0 863.1 1520.1 862.8 1515.3 862.9 1510.5 863.3 1505.8 864.2 1501.2 865.5 1496.8 867.1 1492.5 869.2 1488.5 871.6Z" fill="url(#g3)" stroke="#1c1c1c" stroke-width="1.6" stroke-linejoin="round"/>
<path d="M1490.4 886.0 1495.8 886.8 1501.2 888.2 1506.5 890.0 1511.7 892.3 1516.7 895.0 1521.5 898.1 1526.1 901.7 1530.4 905.6 1534.4 909.8 1538.1 914.4 1541.4 919.2 1544.3 924.2 1546.8 929.5 1548.9 934.9 1550.5 940.5 1551.7 946.1 1552.4 951.7 1552.6 957.3 1552.4 962.9 1551.7 968.4 1550.5 973.7 1548.9 978.9 1546.8 983.9 1544.3 988.5 1541.4 992.9 1538.1 997.0 1534.4 1000.7 1530.4 1004.1 1526.1 1007.0 1521.5 1009.5 1516.7 1011.6 1511.7 1013.1 1506.5 1014.2 1501.2 1014.9 1495.8 1015.0 1490.4 1014.6 1485.0 1013.7 1479.6 1012.4 1474.3 1010.6 1469.1 1008.3 1464.1 1005.6 1459.3 1002.5 1454.7 998.9 1450.4 995.0 1446.4 990.8 1442.7 986.2 1439.4 981.4 1436.5 976.4 1434.0 971.1 1431.9 965.7 1430.3 960.1 1429.1 954.5 1428.4 948.9 1428.1 943.3 1428.4 937.7 1429.1 932.2 1430.3 926.9 1431.9 921.7 1434.0 916.7 1436.5 912.0 1439.4 907.6 1442.7 903.6 1446.4 899.8 1450.4 896.5 1454.7 893.6 1459.3 891.1 1464.1 889.0 1469.1 887.5 1474.3 886.4 1479.6 885.7 1485.0 885.6 1490.4 886.0Z" fill="url(#g4)" stroke="#1c1c1c" stroke-width="1.6" stroke-linejoin="round"/>
<path d="M1218.1 1048.5 1446.4 899.9 1534.4 909.8 1306.1 1058.4Z" fill="#b2bac2" stroke="#1c1c1c" stroke-width="1.6" stroke-linejoin="round"/>
<path d="M1306.1 1058.4 1534.4 909.8 1534.4 1000.7 1306.1 1149.3Z" fill="#afb7bf" stroke="#1c1c1c" stroke-width="1.6" stroke-linejoin="round"/>
<path d="M1201.8 1058.1 1198.0 1060.9 1194.4 1063.9 1191.1 1067.3 1188.1 1070.9 1185.5 1074.9 1183.1 1079.0 1181.1 1083.4 1179.4 1088.0 1178.2 1092.7 1177.2 1097.5 1176.7 1102.5 1176.6 1107.5 1176.8 1112.6 1177.4 1117.7 1178.4 1122.7 1179.8 1127.7 1181.5 1132.6 1183.6 1137.5 1186.0 1142.1 1188.7 1146.6 1191.8 1150.9 1195.1 1154.9 1198.8 1158.7 1202.6 1162.3 1206.7 1165.5 1211.0 1168.4 1215.5 1171.0 1220.1 1173.2 1224.8 1175.1 1229.6 1176.6 1234.4 1177.7 1239.3 1178.4 1244.2 1178.7 1249.0 1178.6 1253.8 1178.1 1258.5 1177.3 1263.1 1176.0 1267.5 1174.3 1271.8 1172.3 1275.8 1169.9 1299.1 1154.8 1302.9 1152.0 1306.5 1149.0 1309.8 1145.6 1312.8 1142.0 1315.4 1138.0 1317.8 1133.9 1319.8 1129.5 1321.4 1124.9 1322.7 1120.2 1323.7 1115.4 1324.2 1110.4 1324.3 1105.4 1324.1 1100.3 1323.5 1095.2 1322.5 1090.2 1321.1 1085.2 1319.4 1080.2 1317.3 1075.4 1314.9 1070.8 1312.1 1066.3 1309.1 1062.0 1305.7 1058.0 1302.1 1054.1 1298.3 1050.6 1294.2 1047.4 1289.9 1044.5 1285.4 1041.9 1280.8 1039.7 1276.1 1037.8 1271.3 1036.3 1266.5 1035.2 1261.6 1034.5 1256.7 1034.2 1251.8 1034.3 1247.1 1034.8 1242.4 1035.6 1237.8 1036.9 1233.4 1038.6 1229.1 1040.6 1225.1 1043.0Z" fill="url(#g5)" stroke="#1c1c1c" stroke-width="1.6" stroke-linejoin="round"/>
<path d="M1299.1 1154.8 1302.9 1152.0 1306.5 1149.0 1309.8 1145.6 1312.8 1142.0 1315.4 1138.0 1317.8 1133.9 1319.8 1129.5 1321.4 1124.9 1322.7 1120.2 1323.7 1115.4 1324.2 1110.4 1324.3 1105.4 1324.1 1100.3 1323.5 1095.2 1322.5 1090.2 1321.1 1085.2 1319.4 1080.2 1317.3 1075.4 1314.9 1070.8 1312.1 1066.3 1309.1 1062.0 1305.7 1058.0 1302.1 1054.1 1298.3 1050.6 1294.2 1047.4 1289.9 1044.5 1285.4 1041.9 1280.8 1039.7 1276.1 1037.8 1271.3 1036.3 1266.5 1035.2 1261.6 1034.5 1256.7 1034.2 1251.8 1034.3 1247.1 1034.8 1242.4 1035.6 1237.8 1036.9 1233.4 1038.6 1229.1 1040.6 1225.1 1043.0" fill="none" stroke="#1c1c1c" stroke-width="1.6" stroke-linejoin="round"/>
<path d="M1238.8 1049.7 1244.2 1050.6 1249.6 1051.9 1254.9 1053.7 1260.1 1056.0 1265.1 1058.7 1269.9 1061.9 1274.5 1065.4 1278.8 1069.3 1282.8 1073.5 1286.5 1078.1 1289.8 1082.9 1292.7 1088.0 1295.2 1093.2 1297.3 1098.6 1298.9 1104.2 1300.1 1109.8 1300.8 1115.4 1301.0 1121.1 1300.8 1126.6 1300.1 1132.1 1298.9 1137.5 1297.3 1142.6 1295.2 1147.6 1292.7 1152.3 1289.8 1156.7 1286.5 1160.8 1282.8 1164.5 1278.8 1167.8 1274.5 1170.7 1269.9 1173.2 1265.1 1175.3 1260.1 1176.9 1254.9 1178.0 1249.6 1178.6 1244.2 1178.7 1238.8 1178.3 1233.4 1177.5 1228.0 1176.1 1222.7 1174.3 1217.5 1172.1 1212.5 1169.3 1207.7 1166.2 1203.1 1162.7 1198.8 1158.8 1194.8 1154.5 1191.1 1150.0 1187.8 1145.1 1184.9 1140.1 1182.4 1134.8 1180.3 1129.4 1178.7 1123.9 1177.5 1118.3 1176.8 1112.6 1176.6 1107.0 1176.8 1101.4 1177.5 1095.9 1178.7 1090.6 1180.3 1085.4 1182.4 1080.5 1184.9 1075.8 1187.8 1071.4 1191.1 1067.3 1194.8 1063.6 1198.8 1060.2 1203.1 1057.3 1207.7 1054.8 1212.5 1052.8 1217.5 1051.2 1222.7 1050.1 1228.0 1049.5 1233.4 1049.4 1238.8 1049.7Z" fill="#7c848b" stroke="#1c1c1c" stroke-width="1.6" stroke-linejoin="round"/>
<path d="M1186.3 1090.9 1183.6 1092.8 1181.0 1095.0 1178.6 1097.4 1176.5 1100.0 1174.6 1102.9 1172.9 1105.8 1171.4 1109.0 1170.3 1112.2 1169.3 1115.6 1168.7 1119.1 1168.3 1122.7 1168.2 1126.3 1168.4 1129.9 1168.8 1133.5 1169.5 1137.2 1170.5 1140.8 1171.7 1144.3 1173.2 1147.7 1175.0 1151.1 1176.9 1154.3 1179.1 1157.4 1181.5 1160.3 1184.1 1163.0 1186.9 1165.5 1189.8 1167.8 1192.9 1169.9 1196.1 1171.8 1199.4 1173.4 1202.8 1174.7 1206.2 1175.8 1209.7 1176.6 1213.2 1177.1 1216.7 1177.3 1220.2 1177.2 1223.6 1176.9 1227.0 1176.3 1230.2 1175.3 1233.4 1174.2 1236.4 1172.7 1239.3 1171.0 1265.3 1154.1 1268.1 1152.1 1270.6 1150.0 1273.0 1147.5 1275.1 1144.9 1277.0 1142.1 1278.7 1139.1 1280.2 1136.0 1281.3 1132.7 1282.3 1129.3 1282.9 1125.9 1283.3 1122.3 1283.4 1118.7 1283.2 1115.1 1282.8 1111.4 1282.1 1107.8 1281.1 1104.2 1279.9 1100.7 1278.4 1097.2 1276.6 1093.9 1274.7 1090.7 1272.5 1087.6 1270.1 1084.7 1267.5 1082.0 1264.7 1079.4 1261.8 1077.1 1258.7 1075.0 1255.5 1073.2 1252.2 1071.6 1248.9 1070.2 1245.4 1069.2 1241.9 1068.4 1238.4 1067.9 1234.9 1067.7 1231.4 1067.7 1228.0 1068.1 1224.7 1068.7 1221.4 1069.6 1218.2 1070.8 1215.2 1072.2 1212.3 1074.0Z" fill="url(#g6)" stroke="#1c1c1c" stroke-width="1.6" stroke-linejoin="round"/>
<path d="M1265.3 1154.1 1268.1 1152.1 1270.6 1150.0 1273.0 1147.5 1275.1 1144.9 1277.0 1142.1 1278.7 1139.1 1280.2 1136.0 1281.3 1132.7 1282.3 1129.3 1282.9 1125.9 1283.3 1122.3 1283.4 1118.7 1283.2 1115.1 1282.8 1111.4 1282.1 1107.8 1281.1 1104.2 1279.9 1100.7 1278.4 1097.2 1276.6 1093.9 1274.7 1090.7 1272.5 1087.6 1270.1 1084.7 1267.5 1082.0 1264.7 1079.4 1261.8 1077.1 1258.7 1075.0 1255.5 1073.2 1252.2 1071.6 1248.9 1070.2 1245.4 1069.2 1241.9 1068.4 1238.4 1067.9 1234.9 1067.7 1231.4 1067.7 1228.0 1068.1 1224.7 1068.7 1221.4 1069.6 1218.2 1070.8 1215.2 1072.2 1212.3 1074.0" fill="none" stroke="#1c1c1c" stroke-width="1.6" stroke-linejoin="round"/>
<path d="M1212.8 1084.8 1216.7 1085.4 1220.6 1086.4 1224.4 1087.7 1228.1 1089.3 1231.7 1091.3 1235.1 1093.5 1238.4 1096.1 1241.5 1098.9 1244.4 1101.9 1247.0 1105.2 1249.4 1108.6 1251.5 1112.3 1253.3 1116.0 1254.7 1119.9 1255.9 1123.9 1256.8 1127.9 1257.3 1131.9 1257.4 1136.0 1257.3 1140.0 1256.8 1143.9 1255.9 1147.7 1254.7 1151.4 1253.3 1155.0 1251.5 1158.4 1249.4 1161.5 1247.0 1164.4 1244.4 1167.1 1241.5 1169.5 1238.4 1171.6 1235.1 1173.4 1231.7 1174.8 1228.1 1176.0 1224.4 1176.8 1220.6 1177.2 1216.7 1177.3 1212.8 1177.0 1208.9 1176.4 1205.1 1175.5 1201.3 1174.2 1197.6 1172.5 1194.0 1170.6 1190.5 1168.3 1187.2 1165.8 1184.1 1163.0 1181.3 1160.0 1178.6 1156.7 1176.3 1153.2 1174.2 1149.6 1172.4 1145.8 1170.9 1142.0 1169.7 1138.0 1168.9 1134.0 1168.4 1129.9 1168.2 1125.9 1168.4 1121.9 1168.9 1118.0 1169.7 1114.1 1170.9 1110.4 1172.4 1106.9 1174.2 1103.5 1176.3 1100.4 1178.6 1097.4 1181.3 1094.8 1184.1 1092.4 1187.2 1090.3 1190.5 1088.5 1194.0 1087.0 1197.6 1085.9 1201.3 1085.1 1205.1 1084.7 1208.9 1084.6 1212.8 1084.8Z" fill="#7c848b" stroke="#1c1c1c" stroke-width="1.6" stroke-linejoin="round"/>
<path d="M1085.2 1184.2 1083.8 1185.2 1082.5 1186.4 1081.3 1187.6 1080.2 1189.0 1079.2 1190.4 1078.3 1192.0 1077.5 1193.6 1076.9 1195.3 1076.4 1197.1 1076.1 1198.9 1075.9 1200.7 1075.8 1202.6 1075.9 1204.5 1076.2 1206.4 1076.5 1208.2 1077.0 1210.1 1077.7 1211.9 1078.5 1213.7 1079.4 1215.4 1080.4 1217.1 1081.5 1218.7 1082.8 1220.2 1084.1 1221.6 1085.5 1222.9 1087.1 1224.2 1088.7 1225.2 1090.3 1226.2 1092.0 1227.0 1093.8 1227.7 1095.6 1228.3 1097.4 1228.7 1099.2 1228.9 1101.0 1229.1 1102.8 1229.0 1104.6 1228.8 1106.3 1228.5 1108.0 1228.0 1109.7 1227.4 1111.3 1226.7 1112.8 1225.8 1226.6 1151.7 1228.0 1150.7 1229.3 1149.6 1230.5 1148.3 1231.7 1147.0 1232.7 1145.5 1233.5 1144.0 1234.3 1142.3 1234.9 1140.6 1235.4 1138.9 1235.7 1137.1 1235.9 1135.2 1236.0 1133.4 1235.9 1131.5 1235.7 1129.6 1235.3 1127.7 1234.8 1125.8 1234.1 1124.0 1233.4 1122.2 1232.5 1120.5 1231.4 1118.8 1230.3 1117.2 1229.0 1115.7 1227.7 1114.3 1226.3 1113.0 1224.7 1111.8 1223.2 1110.7 1221.5 1109.7 1219.8 1108.9 1218.0 1108.2 1216.2 1107.7 1214.4 1107.3 1212.6 1107.0 1210.8 1106.9 1209.0 1106.9 1207.2 1107.1 1205.5 1107.4 1203.8 1107.9 1202.1 1108.5 1200.6 1109.3 1199.0 1110.1Z" fill="url(#g7)" stroke="#1c1c1c" stroke-width="1.6" stroke-linejoin="round"/>
<path d="M1099.0 1181.1 1101.0 1181.4 1103.0 1181.9 1105.0 1182.6 1106.9 1183.4 1108.8 1184.4 1110.6 1185.6 1112.3 1186.9 1113.9 1188.4 1115.4 1189.9 1116.7 1191.6 1118.0 1193.4 1119.1 1195.3 1120.0 1197.3 1120.8 1199.3 1121.4 1201.3 1121.8 1203.4 1122.1 1205.5 1122.2 1207.6 1122.1 1209.7 1121.8 1211.7 1121.4 1213.7 1120.8 1215.6 1120.0 1217.5 1119.1 1219.2 1118.0 1220.9 1116.7 1222.4 1115.4 1223.8 1113.9 1225.0 1112.3 1226.1 1110.6 1227.0 1108.8 1227.8 1106.9 1228.4 1105.0 1228.8 1103.0 1229.0 1101.0 1229.1 1099.0 1228.9 1097.0 1228.6 1095.0 1228.1 1093.0 1227.4 1091.1 1226.6 1089.2 1225.6 1087.4 1224.4 1085.7 1223.1 1084.1 1221.6 1082.6 1220.1 1081.3 1218.4 1080.0 1216.6 1078.9 1214.7 1078.0 1212.7 1077.2 1210.7 1076.6 1208.7 1076.2 1206.6 1075.9 1204.5 1075.8 1202.4 1075.9 1200.3 1076.2 1198.3 1076.6 1196.3 1077.2 1194.4 1078.0 1192.5 1078.9 1190.8 1080.0 1189.1 1081.3 1187.6 1082.6 1186.2 1084.1 1185.0 1085.7 1183.9 1087.4 1183.0 1089.2 1182.2 1091.1 1181.6 1093.0 1181.2 1095.0 1181.0 1097.0 1180.9 1099.0 1181.1Z" fill="#7c848b" stroke="#1c1c1c" stroke-width="1.6" stroke-linejoin="round"/>
<path d="M1224.4 750.2 1224.5 747.9 1224.9 745.6 1225.4 743.5 1226.0 741.6 1226.9 739.8 1227.9 738.1 1229.0 736.5 1230.3 735.2 1231.8 734.0 1448.1 594.2 1449.7 593.2 1451.4 592.3 1453.3 591.6 1455.3 591.2 1457.4 590.9 1470.4 589.6 1473.0 589.7 1475.5 589.9 1478.1 590.1 1480.7 590.3 1483.3 590.5 1486.0 590.8 1488.6 591.1 1491.2 591.4 1493.9 591.7 1496.6 592.1 1499.3 592.4 1502.0 592.8 1504.7 593.2 1507.4 593.7 1510.1 594.6 1512.7 595.6 1515.1 596.9 1517.4 598.4 1519.5 600.1 1521.5 601.9 1523.3 603.9 1524.9 606.1 1526.3 608.4 1527.5 610.8 1528.5 613.3 1529.2 616.0 1529.7 618.7 1530.0 621.5 1530.0 640.9 1313.7 780.7 1224.4 770.6Z" fill="#0000ee"/>
<path d="M1313.7 780.7 1313.7 761.3 1530.0 621.5 1530.0 640.9Z" fill="#0000d2"/>
<path d="M1224.4 750.2 1224.5 747.9 1224.9 745.6 1225.4 743.5 1226.0 741.6 1226.9 739.8 1227.9 738.1 1229.0 736.5 1230.3 735.2 1231.8 734.0 1448.1 594.2 1449.7 593.2 1451.4 592.3 1453.3 591.6 1455.3 591.2 1457.4 590.9 1470.4 589.6 1473.0 589.7 1475.5 589.9 1478.1 590.1 1480.7 590.3 1483.3 590.5 1486.0 590.8 1488.6 591.1 1491.2 591.4 1493.9 591.7 1496.6 592.1 1499.3 592.4 1502.0 592.8 1504.7 593.2 1507.4 593.7 1510.1 594.6 1512.7 595.6 1515.1 596.9 1517.4 598.4 1519.5 600.1 1521.5 601.9 1523.3 603.9 1524.9 606.1 1526.3 608.4 1527.5 610.8 1528.5 613.3 1529.2 616.0 1529.7 618.7 1530.0 621.5 1530.0 640.9 1313.7 780.7 1224.4 770.6Z" fill="none" stroke="#03032e" stroke-width="1.7" stroke-linejoin="round"/>
<path d="M1313.7 761.3L1530.0 621.5" fill="none" stroke="#03032e" stroke-width="1.7"/>
<path d="M1291.1 733.5L1507.4 593.7" fill="none" stroke="#03032e" stroke-width="1.7"/>
<path d="M1254.1 729.4L1470.4 589.6" fill="none" stroke="#03032e" stroke-width="1.7"/>
<path d="M1224.4 770.6 1313.7 780.7 1313.7 761.3 1313.4 758.5 1312.9 755.8 1312.1 753.1 1311.2 750.6 1310.0 748.2 1308.6 745.9 1307.0 743.7 1305.2 741.7 1303.2 739.9 1301.1 738.2 1298.8 736.7 1296.4 735.4 1293.8 734.4 1291.1 733.5 1288.4 733.1 1285.7 732.6 1283.0 732.2 1280.3 731.9 1277.6 731.5 1274.9 731.2 1272.3 730.9 1269.7 730.6 1267.0 730.3 1264.4 730.1 1261.8 729.9 1259.2 729.7 1256.7 729.5 1254.1 729.4 1241.1 730.7 1239.0 731.0 1237.0 731.4 1235.1 732.1 1233.4 733.0 1231.8 734.0 1230.3 735.2 1229.0 736.5 1227.9 738.1 1226.9 739.8 1226.0 741.6 1225.4 743.5 1224.9 745.6 1224.5 747.9 1224.4 750.2Z" fill="#00009c" stroke="#03032e" stroke-width="1.7" stroke-linejoin="round"/>
<path d="M877.6 1069.6 878.0 1027.0 878.2 1025.0 878.6 1023.1 879.3 1021.3 880.1 1019.5 881.1 1017.9 882.3 1016.3 883.7 1014.9 885.2 1013.6 887.0 1012.3 1101.8 874.3 1103.7 873.2 1105.7 872.3 1107.9 871.4 1110.3 870.7 1112.8 870.1 1123.9 868.3 1134.1 869.6 1134.1 963.5 919.3 1101.5 917.3 1101.4 915.3 1101.3 913.3 1101.2 911.3 1101.0 909.4 1100.9 907.5 1100.7 905.6 1100.5 903.8 1100.2 902.0 1100.0 900.2 1099.7 898.4 1099.4 896.7 1099.0 895.0 1098.7 893.3 1098.3 891.4 1097.4 889.5 1096.3 887.8 1095.1 886.2 1093.6 884.7 1092.0 883.3 1090.3 882.1 1088.3 881.0 1086.2 880.1 1083.8 879.3 1081.4 878.6 1078.7 878.1 1075.8 877.8 1072.8Z" fill="#c62a1d"/>
<path d="M919.3 1101.5 919.3 1007.6 1134.1 869.6 1134.1 963.5Z" fill="#c5291c"/>
<path d="M909.1 1006.3 898.0 1008.1 1112.8 870.1 1123.9 868.3Z" fill="#bb2619"/>
<path d="M877.6 1069.6 878.0 1027.0 878.2 1025.0 878.6 1023.1 879.3 1021.3 880.1 1019.5 881.1 1017.9 882.3 1016.3 883.7 1014.9 885.2 1013.6 887.0 1012.3 1101.8 874.3 1103.7 873.2 1105.7 872.3 1107.9 871.4 1110.3 870.7 1112.8 870.1 1123.9 868.3 1134.1 869.6 1134.1 963.5 919.3 1101.5 917.3 1101.4 915.3 1101.3 913.3 1101.2 911.3 1101.0 909.4 1100.9 907.5 1100.7 905.6 1100.5 903.8 1100.2 902.0 1100.0 900.2 1099.7 898.4 1099.4 896.7 1099.0 895.0 1098.7 893.3 1098.3 891.4 1097.4 889.5 1096.3 887.8 1095.1 886.2 1093.6 884.7 1092.0 883.3 1090.3 882.1 1088.3 881.0 1086.2 880.1 1083.8 879.3 1081.4 878.6 1078.7 878.1 1075.8 877.8 1072.8Z" fill="none" stroke="#240806" stroke-width="1.7" stroke-linejoin="round"/>
<path d="M919.3 1007.6L1134.1 869.6" fill="none" stroke="#240806" stroke-width="1.7"/>
<path d="M909.1 1006.3L1123.9 868.3" fill="none" stroke="#240806" stroke-width="1.7"/>
<path d="M919.3 1007.6 909.1 1006.3 898.0 1008.1 895.5 1008.7 893.1 1009.4 890.9 1010.3 888.9 1011.2 887.0 1012.3 885.2 1013.6 883.7 1014.9 882.3 1016.3 881.1 1017.9 880.1 1019.5 879.3 1021.3 878.6 1023.1 878.2 1025.0 878.0 1027.0 877.6 1069.6 877.8 1072.8 878.1 1075.8 878.6 1078.7 879.3 1081.4 880.1 1083.9 881.0 1086.2 882.1 1088.3 883.3 1090.3 884.7 1092.0 886.2 1093.6 887.8 1095.1 889.5 1096.3 891.4 1097.4 893.3 1098.3 895.0 1098.7 896.7 1099.0 898.4 1099.4 900.2 1099.7 902.0 1099.9 903.8 1100.2 905.7 1100.5 907.5 1100.7 909.4 1100.9 911.3 1101.0 913.3 1101.2 915.3 1101.3 917.3 1101.4 919.3 1101.5Z" fill="#8b1a10" stroke="#240806" stroke-width="1.7" stroke-linejoin="round"/>
<path d="M1627.4 1088.1 1842.6 948.7 1860.6 951.3 1862.0 951.7 1863.3 952.2 1864.6 952.8 1865.9 953.4 1867.1 954.1 1868.3 954.8 1869.4 955.6 1870.5 956.5 1871.5 957.4 1872.5 958.4 1873.5 959.5 1874.5 960.6 1875.4 961.8 1878.1 965.2 1878.9 966.3 1879.7 967.5 1880.4 968.7 1881.1 969.9 1881.7 971.1 1882.3 972.3 1882.8 973.6 1883.2 974.9 1883.6 976.3 1883.9 977.7 1884.1 979.1 1884.3 980.6 1884.3 1017.6 1884.3 1019.1 1884.2 1020.5 1884.1 1021.9 1884.0 1023.2 1883.8 1024.5 1883.6 1025.8 1883.4 1027.0 1883.2 1028.2 1882.9 1029.3 1882.6 1030.4 1882.2 1031.4 1881.8 1032.4 1881.4 1033.4 1880.9 1034.3 1880.2 1035.3 1879.4 1036.3 1878.5 1037.2 1877.6 1038.1 1876.6 1038.9 1875.6 1039.7 1874.5 1040.4 1659.3 1179.8 1658.1 1180.4 1656.9 1181.0 1655.6 1181.6 1654.3 1182.0 1652.9 1182.4 1651.5 1182.8 1650.0 1183.0 1627.4 1182.0Z" fill="#c82a1c"/>
<path d="M1645.4 1090.7 1646.8 1091.1 1648.1 1091.6 1649.4 1092.2 1650.7 1092.8 1651.9 1093.5 1653.1 1094.2 1654.2 1095.0 1655.3 1095.9 1656.3 1096.8 1657.3 1097.8 1658.3 1098.9 1659.3 1100.0 1660.2 1101.2 1661.1 1102.4 1662.0 1103.5 1662.9 1104.6 1663.7 1105.7 1664.5 1106.9 1665.2 1108.1 1665.9 1109.3 1666.5 1110.5 1667.1 1111.7 1667.6 1113.0 1668.0 1114.3 1668.4 1115.7 1668.7 1117.1 1668.9 1118.5 1669.1 1120.0 1884.3 980.6 1884.1 979.1 1883.9 977.7 1883.6 976.3 1883.2 974.9 1882.8 973.6 1882.3 972.3 1881.7 971.1 1881.1 969.9 1880.4 968.7 1879.7 967.5 1878.9 966.3 1878.1 965.2 1877.2 964.1 1876.3 963.0 1875.4 961.8 1874.5 960.6 1873.5 959.5 1872.5 958.4 1871.5 957.4 1870.5 956.5 1869.4 955.6 1868.3 954.8 1867.1 954.1 1865.9 953.4 1864.6 952.8 1863.3 952.2 1862.0 951.7 1860.6 951.3Z" fill="url(#g8)"/>
<path d="M1669.1 1120.0 1669.1 1157.0 1884.3 1017.6 1884.3 980.6Z" fill="#cb2b1d"/>
<path d="M1669.1 1157.0 1669.1 1158.5 1669.0 1159.9 1668.9 1161.3 1668.8 1162.6 1668.6 1163.9 1668.4 1165.2 1668.2 1166.4 1668.0 1167.6 1667.7 1168.7 1667.4 1169.8 1667.0 1170.8 1666.6 1171.8 1666.2 1172.8 1665.7 1173.7 1665.0 1174.7 1664.2 1175.7 1663.3 1176.6 1662.4 1177.5 1661.4 1178.3 1660.4 1179.1 1659.3 1179.8 1658.1 1180.4 1656.9 1181.0 1655.6 1181.6 1654.3 1182.0 1652.9 1182.4 1651.5 1182.7 1650.0 1183.0 1865.2 1043.6 1866.7 1043.3 1868.1 1043.0 1869.5 1042.6 1870.8 1042.2 1872.1 1041.6 1873.3 1041.0 1874.5 1040.4 1875.6 1039.7 1876.6 1038.9 1877.6 1038.1 1878.5 1037.2 1879.4 1036.3 1880.2 1035.3 1880.9 1034.3 1881.4 1033.4 1881.8 1032.4 1882.2 1031.4 1882.6 1030.4 1882.9 1029.3 1883.2 1028.2 1883.4 1027.0 1883.6 1025.8 1883.8 1024.5 1884.0 1023.2 1884.1 1021.9 1884.2 1020.5 1884.3 1019.1 1884.3 1017.6Z" fill="url(#g9)"/>
<path d="M1627.4 1088.1 1645.4 1090.7 1860.6 951.3 1842.6 948.7Z" fill="#c4291c"/>
<path d="M1627.4 1088.1 1842.6 948.7 1860.6 951.3 1862.0 951.7 1863.3 952.2 1864.6 952.8 1865.9 953.4 1867.1 954.1 1868.3 954.8 1869.4 955.6 1870.5 956.5 1871.5 957.4 1872.5 958.4 1873.5 959.5 1874.5 960.6 1875.4 961.8 1878.1 965.2 1878.9 966.3 1879.7 967.5 1880.4 968.7 1881.1 969.9 1881.7 971.1 1882.3 972.3 1882.8 973.6 1883.2 974.9 1883.6 976.3 1883.9 977.7 1884.1 979.1 1884.3 980.6 1884.3 1017.6 1884.3 1019.1 1884.2 1020.5 1884.1 1021.9 1884.0 1023.2 1883.8 1024.5 1883.6 1025.8 1883.4 1027.0 1883.2 1028.2 1882.9 1029.3 1882.6 1030.4 1882.2 1031.4 1881.8 1032.4 1881.4 1033.4 1880.9 1034.3 1880.2 1035.3 1879.4 1036.3 1878.5 1037.2 1877.6 1038.1 1876.6 1038.9 1875.6 1039.7 1874.5 1040.4 1659.3 1179.8 1658.1 1180.4 1656.9 1181.0 1655.6 1181.6 1654.3 1182.0 1652.9 1182.4 1651.5 1182.8 1650.0 1183.0 1627.4 1182.0Z" fill="none" stroke="#240806" stroke-width="1.7" stroke-linejoin="round"/>
<path d="M1645.4 1090.7L1860.6 951.3" fill="none" stroke="#240806" stroke-width="1.7"/>
<path d="M1669.1 1120.0L1884.3 980.6" fill="none" stroke="#240806" stroke-width="1.7"/>
<path d="M1669.1 1157.0L1884.3 1017.6" fill="none" stroke="#240806" stroke-width="1.7"/>
<path d="M1627.4 1088.1 1645.4 1090.7 1646.8 1091.1 1648.1 1091.6 1649.4 1092.2 1650.7 1092.8 1651.9 1093.5 1653.1 1094.2 1654.2 1095.0 1655.3 1095.9 1656.3 1096.8 1657.3 1097.8 1658.3 1098.9 1659.3 1100.0 1660.2 1101.2 1661.1 1102.4 1662.0 1103.5 1662.9 1104.6 1663.7 1105.7 1664.5 1106.9 1665.2 1108.1 1665.9 1109.3 1666.5 1110.5 1667.1 1111.7 1667.6 1113.0 1668.0 1114.3 1668.4 1115.7 1668.7 1117.1 1668.9 1118.5 1669.1 1120.0 1669.1 1157.0 1669.1 1158.5 1669.0 1159.9 1668.9 1161.3 1668.8 1162.6 1668.6 1163.9 1668.4 1165.2 1668.2 1166.4 1668.0 1167.6 1667.7 1168.7 1667.4 1169.8 1667.0 1170.8 1666.6 1171.8 1666.2 1172.8 1665.7 1173.7 1665.0 1174.7 1664.2 1175.7 1663.3 1176.6 1662.4 1177.5 1661.4 1178.3 1660.4 1179.1 1659.3 1179.8 1658.1 1180.4 1656.9 1181.0 1655.6 1181.6 1654.3 1182.0 1652.9 1182.4 1651.5 1182.7 1650.0 1183.0 1627.4 1182.0Z" fill="#8a1a10" stroke="#240806" stroke-width="1.7" stroke-linejoin="round"/>
<path d="M1224.0 1377.1 1438.9 1238.7 1528.4 1248.2 1528.2 1264.2 1528.2 1265.5 1528.1 1266.9 1528.0 1268.1 1527.8 1269.4 1527.6 1270.6 1527.4 1271.7 1527.1 1272.8 1526.8 1274.0 1526.3 1275.0 1525.9 1276.1 1525.4 1277.1 1524.8 1278.1 1524.2 1279.0 1522.8 1281.0 1522.0 1281.9 1521.2 1282.8 1520.3 1283.7 1519.3 1284.6 1518.3 1285.3 1517.2 1286.1 1302.3 1424.5 1301.1 1425.1 1299.9 1425.7 1298.7 1426.2 1297.4 1426.6 1296.0 1427.0 1294.6 1427.2 1293.2 1427.3 1251.9 1423.5 1249.4 1423.1 1247.1 1422.7 1244.9 1422.2 1242.9 1421.6 1241.0 1420.9 1239.2 1420.2 1237.5 1419.4 1236.0 1418.5 1234.7 1417.5 1233.4 1416.5 1232.2 1415.3 1231.2 1414.1 1230.3 1412.8 1229.5 1411.5 1228.8 1410.1 1228.1 1408.7 1227.5 1407.4 1226.9 1406.0 1226.4 1404.7 1225.9 1403.3 1225.5 1402.0 1225.2 1400.7 1224.8 1399.3 1224.6 1398.0 1224.3 1396.7 1224.2 1395.3 1224.1 1394.0 1224.0 1392.6Z" fill="#0000d4"/>
<path d="M1224.0 1377.1 1313.5 1386.6 1528.4 1248.2 1438.9 1238.7Z" fill="#0000d4"/>
<path d="M1313.5 1386.6 1313.3 1402.6 1528.2 1264.2 1528.4 1248.2Z" fill="#0000e2"/>
<path d="M1313.3 1402.6 1313.3 1404.0 1313.2 1405.3 1313.1 1406.5 1312.9 1407.8 1312.7 1409.0 1312.5 1410.1 1312.2 1411.2 1311.8 1412.3 1311.5 1413.4 1311.0 1414.5 1310.5 1415.5 1309.9 1416.5 1309.3 1417.4 1308.6 1418.4 1307.9 1419.4 1307.1 1420.3 1306.3 1421.2 1305.4 1422.1 1304.4 1423.0 1303.4 1423.7 1302.3 1424.5 1301.1 1425.1 1299.9 1425.7 1298.7 1426.2 1297.4 1426.6 1296.0 1427.0 1294.6 1427.2 1293.2 1427.3 1508.1 1288.9 1509.5 1288.8 1510.9 1288.6 1512.3 1288.2 1513.6 1287.8 1514.8 1287.3 1516.0 1286.7 1517.2 1286.1 1518.3 1285.3 1519.3 1284.6 1520.3 1283.7 1521.2 1282.8 1522.0 1281.9 1522.8 1281.0 1523.5 1280.0 1524.2 1279.0 1524.8 1278.1 1525.4 1277.1 1525.9 1276.1 1526.4 1275.0 1526.7 1273.9 1527.1 1272.8 1527.4 1271.7 1527.6 1270.6 1527.8 1269.4 1528.0 1268.1 1528.1 1266.9 1528.2 1265.6 1528.2 1264.2Z" fill="url(#g10)"/>
<path d="M1224.0 1377.1 1438.9 1238.7 1528.4 1248.2 1528.2 1264.2 1528.2 1265.5 1528.1 1266.9 1528.0 1268.1 1527.8 1269.4 1527.6 1270.6 1527.4 1271.7 1527.1 1272.8 1526.8 1274.0 1526.3 1275.0 1525.9 1276.1 1525.4 1277.1 1524.8 1278.1 1524.2 1279.0 1522.8 1281.0 1522.0 1281.9 1521.2 1282.8 1520.3 1283.7 1519.3 1284.6 1518.3 1285.3 1517.2 1286.1 1302.3 1424.5 1301.1 1425.1 1299.9 1425.7 1298.7 1426.2 1297.4 1426.6 1296.0 1427.0 1294.6 1427.2 1293.2 1427.3 1251.9 1423.5 1249.4 1423.1 1247.1 1422.7 1244.9 1422.2 1242.9 1421.6 1241.0 1420.9 1239.2 1420.2 1237.5 1419.4 1236.0 1418.5 1234.7 1417.5 1233.4 1416.5 1232.2 1415.3 1231.2 1414.1 1230.3 1412.8 1229.5 1411.5 1228.8 1410.1 1228.1 1408.7 1227.5 1407.4 1226.9 1406.0 1226.4 1404.7 1225.9 1403.3 1225.5 1402.0 1225.2 1400.7 1224.8 1399.3 1224.6 1398.0 1224.3 1396.7 1224.2 1395.3 1224.1 1394.0 1224.0 1392.6Z" fill="none" stroke="#03032e" stroke-width="1.7" stroke-linejoin="round"/>
<path d="M1313.5 1386.6L1528.4 1248.2" fill="none" stroke="#03032e" stroke-width="1.7"/>
<path d="M1313.3 1402.6L1528.2 1264.2" fill="none" stroke="#03032e" stroke-width="1.7"/>
<path d="M1224.0 1377.1 1313.5 1386.6 1313.3 1402.6 1313.3 1404.0 1313.2 1405.3 1313.1 1406.5 1312.9 1407.8 1312.7 1409.0 1312.5 1410.1 1312.2 1411.2 1311.8 1412.3 1311.5 1413.4 1311.0 1414.5 1310.5 1415.5 1309.9 1416.5 1309.3 1417.4 1308.6 1418.4 1307.9 1419.4 1307.1 1420.3 1306.3 1421.2 1305.4 1422.1 1304.4 1423.0 1303.4 1423.7 1302.3 1424.5 1301.1 1425.1 1299.9 1425.7 1298.7 1426.2 1297.4 1426.6 1296.0 1427.0 1294.6 1427.2 1293.2 1427.3 1251.9 1423.5 1249.4 1423.1 1247.1 1422.7 1244.9 1422.2 1242.9 1421.6 1241.0 1420.9 1239.2 1420.2 1237.5 1419.4 1236.0 1418.5 1234.7 1417.5 1233.4 1416.5 1232.2 1415.3 1231.2 1414.1 1230.3 1412.9 1229.5 1411.5 1228.8 1410.1 1228.1 1408.7 1227.5 1407.4 1226.9 1406.0 1226.4 1404.7 1225.9 1403.3 1225.5 1402.0 1225.1 1400.7 1224.8 1399.3 1224.6 1398.0 1224.3 1396.7 1224.2 1395.3 1224.1 1394.0 1224.0 1392.6Z" fill="#00009a" stroke="#03032e" stroke-width="1.7" stroke-linejoin="round"/>
<path d="M1377.2 741.0L1377.2 956.0" fill="none" stroke="#111" stroke-width="2.2" stroke-dasharray="18 3.6 2.6 3.6"/>
<path d="M1377.2 1106.0L1377.2 1277.0" fill="none" stroke="#111" stroke-width="2.2" stroke-dasharray="18 3.6 2.6 3.6"/>
<path d="M1377.2 1277.0L1377.2 1311.0" fill="none" stroke="#000070" stroke-width="2.0" stroke-dasharray="18 3.6 2.6 3.6"/>
<path d="M1026.7 984.8L1270.0 1012.2" fill="none" stroke="#111" stroke-width="2.2" stroke-dasharray="18 3.6 2.6 3.6"/>
<path d="M1441.5 1032.4L1674.0 1058.6" fill="none" stroke="#111" stroke-width="2.2" stroke-dasharray="18 3.6 2.6 3.6"/>
<path d="M1575.4 895.7L1799.7 750.3" fill="none" stroke="#111" stroke-width="2.2" stroke-dasharray="18 3.6 2.6 3.6"/>
<path d="M1984.5 603.6H2151" stroke="#dfa161" stroke-width="4.8" fill="none"/>
<circle cx="1984.5" cy="601.9" r="22.2" fill="#dfa161"/><circle cx="1984.5" cy="601.9" r="7.4" fill="#fff"/>
<path d="M1540.2 903.7H2151" stroke="#dfa161" stroke-width="4.8" fill="none"/>
<circle cx="1540.2" cy="902.0" r="22.2" fill="#dfa161"/><circle cx="1540.2" cy="902.0" r="7.4" fill="#fff"/>
<path d="M1753.7 1113.9H2151" stroke="#dfa161" stroke-width="4.8" fill="none"/>
<circle cx="1753.7" cy="1112.2" r="22.2" fill="#dfa161"/><circle cx="1753.7" cy="1112.2" r="7.4" fill="#fff"/>
<path d="M1381.2 1363.7H2151" stroke="#dfa161" stroke-width="4.8" fill="none"/>
<circle cx="1381.2" cy="1362.0" r="22.2" fill="#dfa161"/><circle cx="1381.2" cy="1362.0" r="7.4" fill="#fff"/></svg>
<div class="abs card" style="left:2150px;top:356.9px;width:765.9px;height:268.8px"></div>
<span class="t" style="left:2171.73px;top:380.23px;font-size:36px;color:#1a2236;font-weight:700;transform:scaleX(1.0072);">Magnet Sleeve</span>
<span class="t" style="left:2171.97px;top:441.01px;font-size:47px;color:#1a2236;transform:scaleX(1.0163);">8000075</span>
<div class="abs inp" style="left:2172.9px;top:491.9px;width:479.6px;height:114.8px"><div class="abs" style="left:0;top:0;width:463.0px;height:109.6px;overflow:hidden"><span class="t" style="left:12.50px;top:23.69px;font-size:63.1px;color:#1a2236;">RECEIPT-1698173</span></div></div>
<svg class="abs" style="left:2659.3px;top:491.5px" width="117" height="118.2" viewBox="0 0 117 118.2"><rect width="117" height="118.2" rx="6" fill="#616161"/><path fill="#fafafa" d="M31.6 31.5C33 28.5 41 27 57.8 26.5C70 26.3 80.5 29.5 83 35.9C84.3 39.5 82 44.5 77.9 47.1C75 48.6 69 48.8 53.4 49C46 49 42.5 48.3 41.1 47.1C38 44.8 33.2 38.5 31.6 31.5Z"/><path fill="#fafafa" d="M50.6 53.8 77.9 51C78.5 54 79.3 57.5 80.2 60.5C81.5 64.5 82.7 68.5 83.5 71.7C84.6 76 85.6 79 85.5 81.7C85.5 85 85.3 87.3 84.1 88.5C82.8 90 81 91 79 91.2C76.5 91.7 73.5 92 71.2 91.8C69.5 91.6 68 90.8 67.9 89.6C67.9 88 69.3 86.2 69.6 84C70 81.5 69.6 78.5 69 76.2C68.5 74 67.8 71.8 66.8 69.5C65.8 67.2 64.8 65 63.4 62.8C62.8 61.8 62 60.8 61.2 60.5C60.2 60.3 58.8 61.8 57.8 61.6C56.8 60.5 56.3 59 55.6 57.7C54.2 56.2 52.4 55 50.6 53.8Z"/></svg>
<svg class="abs" style="left:2789.5px;top:492.1px" width="112" height="112" viewBox="-56 -56 112 112"><circle r="47.3" fill="none" stroke="#5cb450" stroke-width="9.3"/><path fill="#5cb450" d="M-28.5 0-21.8-5.9-8.9 7.6 18.4-19.2 24.6-13.4-8.9 20.3Z"/></svg>
<div class="abs card" style="left:2150px;top:656.2px;width:765.9px;height:268.8px"></div>
<span class="t" style="left:2173.00px;top:679.53px;font-size:36px;color:#1a2236;font-weight:700;transform:scaleX(1.0049);">Shaft</span>
<span class="t" style="left:2174.47px;top:732.41px;font-size:47px;color:#1a2236;transform:scaleX(1.0090);">1008065-045</span>
<div class="abs inp" style="left:2172.9px;top:791.2px;width:479.6px;height:114.8px"><div class="abs" style="left:0;top:0;width:463.0px;height:109.6px;overflow:hidden"><span class="t" style="left:12.50px;top:23.69px;font-size:63.1px;color:#1a2236;">RECEIPT-1698173</span></div></div>
<svg class="abs" style="left:2659.3px;top:790.8px" width="117" height="118.2" viewBox="0 0 117 118.2"><rect width="117" height="118.2" rx="6" fill="#616161"/><path fill="#fafafa" d="M31.6 31.5C33 28.5 41 27 57.8 26.5C70 26.3 80.5 29.5 83 35.9C84.3 39.5 82 44.5 77.9 47.1C75 48.6 69 48.8 53.4 49C46 49 42.5 48.3 41.1 47.1C38 44.8 33.2 38.5 31.6 31.5Z"/><path fill="#fafafa" d="M50.6 53.8 77.9 51C78.5 54 79.3 57.5 80.2 60.5C81.5 64.5 82.7 68.5 83.5 71.7C84.6 76 85.6 79 85.5 81.7C85.5 85 85.3 87.3 84.1 88.5C82.8 90 81 91 79 91.2C76.5 91.7 73.5 92 71.2 91.8C69.5 91.6 68 90.8 67.9 89.6C67.9 88 69.3 86.2 69.6 84C70 81.5 69.6 78.5 69 76.2C68.5 74 67.8 71.8 66.8 69.5C65.8 67.2 64.8 65 63.4 62.8C62.8 61.8 62 60.8 61.2 60.5C60.2 60.3 58.8 61.8 57.8 61.6C56.8 60.5 56.3 59 55.6 57.7C54.2 56.2 52.4 55 50.6 53.8Z"/></svg>
<svg class="abs" style="left:2789.5px;top:791.4px" width="112" height="112" viewBox="-56 -56 112 112"><circle r="47.3" fill="none" stroke="#5cb450" stroke-width="9.3"/><path fill="#5cb450" d="M-28.5 0-21.8-5.9-8.9 7.6 18.4-19.2 24.6-13.4-8.9 20.3Z"/></svg>
<div class="abs card" style="left:2150px;top:955.2px;width:765.9px;height:268.8px"></div>
<span class="t" style="left:2173.00px;top:977.83px;font-size:36px;color:#1a2236;font-weight:700;transform:scaleX(1.0037);">South Magnet</span>
<span class="t" style="left:2170.87px;top:1031.41px;font-size:47px;color:#1a2236;transform:scaleX(1.0127);">8005001S</span>
<div class="abs inp" style="left:2172.9px;top:1089.5px;width:479.6px;height:114.8px"><div class="abs" style="left:0;top:0;width:463.0px;height:109.6px;overflow:hidden"><span class="t" style="left:12.50px;top:23.69px;font-size:63.1px;color:#1a2236;">RECEIPT-1698173</span></div></div>
<svg class="abs" style="left:2659.3px;top:1089.1px" width="117" height="118.2" viewBox="0 0 117 118.2"><rect width="117" height="118.2" rx="6" fill="#616161"/><path fill="#fafafa" d="M31.6 31.5C33 28.5 41 27 57.8 26.5C70 26.3 80.5 29.5 83 35.9C84.3 39.5 82 44.5 77.9 47.1C75 48.6 69 48.8 53.4 49C46 49 42.5 48.3 41.1 47.1C38 44.8 33.2 38.5 31.6 31.5Z"/><path fill="#fafafa" d="M50.6 53.8 77.9 51C78.5 54 79.3 57.5 80.2 60.5C81.5 64.5 82.7 68.5 83.5 71.7C84.6 76 85.6 79 85.5 81.7C85.5 85 85.3 87.3 84.1 88.5C82.8 90 81 91 79 91.2C76.5 91.7 73.5 92 71.2 91.8C69.5 91.6 68 90.8 67.9 89.6C67.9 88 69.3 86.2 69.6 84C70 81.5 69.6 78.5 69 76.2C68.5 74 67.8 71.8 66.8 69.5C65.8 67.2 64.8 65 63.4 62.8C62.8 61.8 62 60.8 61.2 60.5C60.2 60.3 58.8 61.8 57.8 61.6C56.8 60.5 56.3 59 55.6 57.7C54.2 56.2 52.4 55 50.6 53.8Z"/></svg>
<svg class="abs" style="left:2789.5px;top:1089.7px" width="112" height="112" viewBox="-56 -56 112 112"><circle r="47.3" fill="none" stroke="#5cb450" stroke-width="9.3"/><path fill="#5cb450" d="M-28.5 0-21.8-5.9-8.9 7.6 18.4-19.2 24.6-13.4-8.9 20.3Z"/></svg>
<div class="abs card" style="left:2150px;top:1274.5px;width:765.9px;height:268.8px"></div>
<span class="t" style="left:2172.32px;top:1297.83px;font-size:36px;color:#1a2236;font-weight:700;transform:scaleX(1.0149);">North Magnet</span>
<span class="t" style="left:2170.85px;top:1351.41px;font-size:47px;color:#1a2236;transform:scaleX(1.0245);">8005001N</span>
<div class="abs inp" style="left:2174.4px;top:1410.2px;width:479.6px;height:114.8px"><div class="abs" style="left:0;top:0;width:463.0px;height:109.6px;overflow:hidden"><span class="t" style="left:12.50px;top:23.69px;font-size:63.1px;color:#1a2236;">RECEIPT-1698173</span></div></div>
<svg class="abs" style="left:2660.5px;top:1409.8px" width="117" height="118.2" viewBox="0 0 117 118.2"><rect width="117" height="118.2" rx="6" fill="#616161"/><path fill="#fafafa" d="M31.6 31.5C33 28.5 41 27 57.8 26.5C70 26.3 80.5 29.5 83 35.9C84.3 39.5 82 44.5 77.9 47.1C75 48.6 69 48.8 53.4 49C46 49 42.5 48.3 41.1 47.1C38 44.8 33.2 38.5 31.6 31.5Z"/><path fill="#fafafa" d="M50.6 53.8 77.9 51C78.5 54 79.3 57.5 80.2 60.5C81.5 64.5 82.7 68.5 83.5 71.7C84.6 76 85.6 79 85.5 81.7C85.5 85 85.3 87.3 84.1 88.5C82.8 90 81 91 79 91.2C76.5 91.7 73.5 92 71.2 91.8C69.5 91.6 68 90.8 67.9 89.6C67.9 88 69.3 86.2 69.6 84C70 81.5 69.6 78.5 69 76.2C68.5 74 67.8 71.8 66.8 69.5C65.8 67.2 64.8 65 63.4 62.8C62.8 61.8 62 60.8 61.2 60.5C60.2 60.3 58.8 61.8 57.8 61.6C56.8 60.5 56.3 59 55.6 57.7C54.2 56.2 52.4 55 50.6 53.8Z"/></svg>
<svg class="abs" style="left:2790.5px;top:1410.4px" width="112" height="112" viewBox="-56 -56 112 112"><circle r="47.3" fill="none" stroke="#5cb450" stroke-width="9.3"/><path fill="#5cb450" d="M-28.5 0-21.8-5.9-8.9 7.6 18.4-19.2 24.6-13.4-8.9 20.3Z"/></svg>
</main>
<footer>
<div class="abs" style="left:0;top:1740px;width:3024px;height:152px;background:#151c2d"></div>
<div class="abs" style="left:0;top:1740px;width:409.5px;height:152px;background:#5c6670"></div>
<div class="abs" style="left:2084.5px;top:1740px;width:939.5px;height:152px;background:#cbe3ea;box-sizing:border-box;border-top:1.5px solid #b9d0d6;border-right:1.5px solid #b9d0d6"></div>
<svg class="ic" style="left:66.50px;top:1783.20px" width="66" height="66" viewBox="0 0 24 24"><path fill="#fff"  d="M20 11H7.83l5.59-5.59L12 4l-8 8 8 8 1.41-1.41L7.83 13H20v-2z"/></svg>
<span class="t" style="left:148.54px;top:1796.13px;font-size:43.2px;color:#fff;font-weight:700;transform:scaleX(0.9321);">Exit Order</span>
<span class="t" style="left:2354.29px;top:1796.20px;font-size:43.0px;color:#142030;font-weight:700;transform:scaleX(0.9507);">Begin Assembly</span>
<svg class="ic" style="left:2688.40px;top:1783.50px" width="66" height="66" viewBox="0 0 24 24"><path fill="#142030"  d="M12 4l-1.41 1.41L16.17 11H4v2h12.17l-5.58 5.59L12 20l8-8z"/></svg>
</footer>
</body></html>
